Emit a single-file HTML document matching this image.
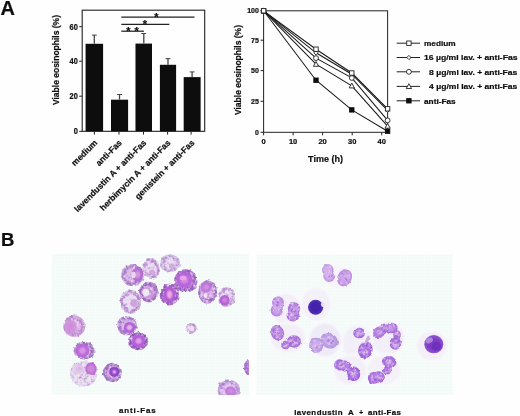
<!DOCTYPE html>
<html><head><meta charset="utf-8"><title>Figure</title>
<style>html,body{margin:0;padding:0;background:#fefefe}svg{display:block}text{stroke:#111;stroke-width:.22px}</style></head>
<body>
<svg width="520" height="416" viewBox="0 0 520 416">
<defs>
<filter id="b1" x="-20%" y="-20%" width="140%" height="140%"><feGaussianBlur stdDeviation="0.6"/></filter>
<filter id="b3" x="-20%" y="-20%" width="140%" height="140%"><feGaussianBlur stdDeviation="0.7"/></filter>
<filter id="b2" x="-20%" y="-20%" width="140%" height="140%"><feGaussianBlur stdDeviation="0.9"/></filter>
<filter id="tex" x="0" y="0" width="100%" height="100%" color-interpolation-filters="sRGB">
<feTurbulence type="fractalNoise" baseFrequency="0.22" numOctaves="2" seed="4" result="n"/>
<feDisplacementMap in="SourceGraphic" in2="n" scale="3" xChannelSelector="R" yChannelSelector="G" result="d"/>
<feTurbulence type="fractalNoise" baseFrequency="0.3" numOctaves="2" seed="9" result="n2"/>
<feColorMatrix in="n2" type="matrix" values="0 0 0 0 0.96  0 0 0 0 0.90  0 0 0 0 0.98  2.6 0 0 0 -1.25" result="w"/>
<feComposite in="w" in2="d" operator="in" result="wm"/>
<feColorMatrix in="n2" type="matrix" values="0 0 0 0 0.58  0 0 0 0 0.3  0 0 0 0 0.76  0 1.6 0 0 -0.85" result="k"/>
<feComposite in="k" in2="d" operator="in" result="km"/>
<feMerge result="m"><feMergeNode in="d"/><feMergeNode in="wm"/><feMergeNode in="km"/></feMerge>
<feGaussianBlur in="m" stdDeviation="0.75"/>
</filter>
<filter id="tex2" x="0" y="0" width="100%" height="100%" color-interpolation-filters="sRGB">
<feTurbulence type="fractalNoise" baseFrequency="0.22" numOctaves="2" seed="11" result="n"/>
<feDisplacementMap in="SourceGraphic" in2="n" scale="2.5" xChannelSelector="R" yChannelSelector="G" result="d"/>
<feTurbulence type="fractalNoise" baseFrequency="0.35" numOctaves="2" seed="5" result="n2"/>
<feColorMatrix in="n2" type="matrix" values="0 0 0 0 0.90  0 0 0 0 0.80  0 0 0 0 0.96  2.4 0 0 0 -1.15" result="w"/>
<feComposite in="w" in2="d" operator="in" result="wm"/>
<feMerge result="m"><feMergeNode in="d"/><feMergeNode in="wm"/></feMerge>
<feGaussianBlur in="m" stdDeviation="0.72"/>
</filter>
<filter id="tb" x="-5%" y="-5%" width="110%" height="110%"><feGaussianBlur stdDeviation="0.35"/></filter>
<clipPath id="cl"><rect x="51.5" y="254" width="197.5" height="141"/></clipPath>
<clipPath id="cr"><rect x="256.5" y="254.5" width="196.5" height="140.5"/></clipPath>
<pattern id="grid" width="3" height="3" patternUnits="userSpaceOnUse"><rect width="3" height="3" fill="#f6fcfa"/><path d="M0 0.5H3M0.5 0V3" stroke="#f0f9f7" stroke-width="0.5"/></pattern>
</defs>
<rect width="520" height="416" fill="#fefefe"/>
<g font-family="Liberation Sans, Arial, Helvetica, sans-serif" font-weight="bold" fill="#111" filter="url(#tb)">
<text x="0.5" y="15.3" font-size="19.4" textLength="14.4" lengthAdjust="spacingAndGlyphs" stroke="#111" stroke-width="0.3">A</text>
<text x="0.9" y="245.5" font-size="18" textLength="13.4" lengthAdjust="spacingAndGlyphs" stroke="#111" stroke-width="0.3">B</text>
</g>
<g id="chartA" filter="url(#tb)">
<rect x="82.2" y="10.2" width="122.5" height="121.1" fill="none" stroke="#222" stroke-width="1.1"/>
<line x1="79.2" y1="131.3" x2="82.2" y2="131.3" stroke="#222" stroke-width="1"/>
<text x="77.9" y="134.3" font-size="8.7" text-anchor="end" textLength="4.2" lengthAdjust="spacingAndGlyphs" font-family="Liberation Sans, Arial, Helvetica, sans-serif" font-weight="bold" fill="#111">0</text>
<line x1="79.2" y1="96.2" x2="82.2" y2="96.2" stroke="#222" stroke-width="1"/>
<text x="77.9" y="99.2" font-size="8.7" text-anchor="end" textLength="8.3" lengthAdjust="spacingAndGlyphs" font-family="Liberation Sans, Arial, Helvetica, sans-serif" font-weight="bold" fill="#111">20</text>
<line x1="79.2" y1="61.2" x2="82.2" y2="61.2" stroke="#222" stroke-width="1"/>
<text x="77.9" y="64.2" font-size="8.7" text-anchor="end" textLength="8.3" lengthAdjust="spacingAndGlyphs" font-family="Liberation Sans, Arial, Helvetica, sans-serif" font-weight="bold" fill="#111">40</text>
<line x1="79.2" y1="26.7" x2="82.2" y2="26.7" stroke="#222" stroke-width="1"/>
<text x="77.9" y="29.7" font-size="8.7" text-anchor="end" textLength="8.3" lengthAdjust="spacingAndGlyphs" font-family="Liberation Sans, Arial, Helvetica, sans-serif" font-weight="bold" fill="#111">60</text>
<text transform="translate(59.4,60) rotate(-90)" font-size="8.4" text-anchor="middle" textLength="90" lengthAdjust="spacingAndGlyphs" font-family="Liberation Sans, Arial, Helvetica, sans-serif" font-weight="bold" fill="#111">Viable eosinophils (%)</text>
<rect x="85.6" y="43.8" width="17.5" height="87.5" fill="#0b0b0b"/>
<path d="M94.3 43.8V35.1" stroke="#444" stroke-width="1.3" fill="none"/><path d="M91.9 35.1H96.8" stroke="#444" stroke-width="1" fill="none"/>
<line x1="94.4" y1="131.3" x2="94.4" y2="134.60000000000002" stroke="#222" stroke-width="1"/>
<rect x="111" y="99.7" width="17.1" height="31.6" fill="#0b0b0b"/>
<path d="M119.5 99.7V94.5" stroke="#444" stroke-width="1.3" fill="none"/><path d="M117.1 94.5H122.0" stroke="#444" stroke-width="1" fill="none"/>
<line x1="119.0" y1="131.3" x2="119.0" y2="134.60000000000002" stroke="#222" stroke-width="1"/>
<rect x="135.5" y="43.6" width="16.5" height="87.7" fill="#0b0b0b"/>
<path d="M143.8 43.6V33.5" stroke="#444" stroke-width="1.3" fill="none"/><path d="M141.3 33.5H146.2" stroke="#444" stroke-width="1" fill="none"/>
<line x1="143.5" y1="131.3" x2="143.5" y2="134.60000000000002" stroke="#222" stroke-width="1"/>
<rect x="159.9" y="64.8" width="16.2" height="66.5" fill="#0b0b0b"/>
<path d="M168.0 64.8V58.6" stroke="#444" stroke-width="1.3" fill="none"/><path d="M165.6 58.6H170.4" stroke="#444" stroke-width="1" fill="none"/>
<line x1="167.6" y1="131.3" x2="167.6" y2="134.60000000000002" stroke="#222" stroke-width="1"/>
<rect x="183.7" y="77.1" width="16.9" height="54.2" fill="#0b0b0b"/>
<path d="M192.1 77.1V71.9" stroke="#444" stroke-width="1.3" fill="none"/><path d="M189.7 71.9H194.5" stroke="#444" stroke-width="1" fill="none"/>
<line x1="191.1" y1="131.3" x2="191.1" y2="134.60000000000002" stroke="#222" stroke-width="1"/>
<line x1="121.3" y1="17.2" x2="194.5" y2="17.2" stroke="#222" stroke-width="1.25"/>
<text x="156.5" y="20.8" font-size="11" text-anchor="middle" font-family="Liberation Sans, Arial, Helvetica, sans-serif" font-weight="bold" fill="#111">*</text>
<line x1="121.3" y1="24.3" x2="169.3" y2="24.3" stroke="#222" stroke-width="1.25"/>
<text x="144.8" y="27.9" font-size="11" text-anchor="middle" font-family="Liberation Sans, Arial, Helvetica, sans-serif" font-weight="bold" fill="#111">*</text>
<line x1="121.3" y1="31.2" x2="143.9" y2="31.2" stroke="#222" stroke-width="1.25"/>
<text x="128.5" y="34.8" font-size="11" text-anchor="middle" font-family="Liberation Sans, Arial, Helvetica, sans-serif" font-weight="bold" fill="#111">*</text>
<text x="136.6" y="34.8" font-size="11" text-anchor="middle" font-family="Liberation Sans, Arial, Helvetica, sans-serif" font-weight="bold" fill="#111">*</text>
<text transform="translate(98.0,143.3) rotate(-45)" font-size="8.55" stroke="#111" stroke-width="0.15" text-anchor="end" font-family="Liberation Sans, Arial, Helvetica, sans-serif" font-weight="bold" fill="#111">medium</text>
<text transform="translate(122.4,143.3) rotate(-45)" font-size="8.55" stroke="#111" stroke-width="0.15" text-anchor="end" font-family="Liberation Sans, Arial, Helvetica, sans-serif" font-weight="bold" fill="#111">anti-Fas</text>
<text transform="translate(146.9,143.3) rotate(-45)" font-size="8.55" stroke="#111" stroke-width="0.15" text-anchor="end" font-family="Liberation Sans, Arial, Helvetica, sans-serif" font-weight="bold" fill="#111">lavendustin A + anti-Fas</text>
<text transform="translate(171.1,143.3) rotate(-45)" font-size="8.55" stroke="#111" stroke-width="0.15" text-anchor="end" font-family="Liberation Sans, Arial, Helvetica, sans-serif" font-weight="bold" fill="#111">herbimycin A + anti-Fas</text>
<text transform="translate(195.0,143.3) rotate(-45)" font-size="8.55" stroke="#111" stroke-width="0.15" text-anchor="end" font-family="Liberation Sans, Arial, Helvetica, sans-serif" font-weight="bold" fill="#111">genistein + anti-Fas</text>
</g>
<g id="chartL" filter="url(#tb)">
<rect x="263.6" y="10.8" width="124.0" height="121.5" fill="none" stroke="#222" stroke-width="1"/>
<line x1="260.6" y1="132.3" x2="263.6" y2="132.3" stroke="#222" stroke-width="1"/>
<text x="258.9" y="134.8" font-size="7" text-anchor="end" font-family="Liberation Sans, Arial, Helvetica, sans-serif" font-weight="bold" fill="#111">0</text>
<line x1="260.6" y1="101.3" x2="263.6" y2="101.3" stroke="#222" stroke-width="1"/>
<text x="258.9" y="103.8" font-size="7" text-anchor="end" font-family="Liberation Sans, Arial, Helvetica, sans-serif" font-weight="bold" fill="#111">25</text>
<line x1="260.6" y1="70.6" x2="263.6" y2="70.6" stroke="#222" stroke-width="1"/>
<text x="258.9" y="73.1" font-size="7" text-anchor="end" font-family="Liberation Sans, Arial, Helvetica, sans-serif" font-weight="bold" fill="#111">50</text>
<line x1="260.6" y1="40.2" x2="263.6" y2="40.2" stroke="#222" stroke-width="1"/>
<text x="258.9" y="42.7" font-size="7" text-anchor="end" font-family="Liberation Sans, Arial, Helvetica, sans-serif" font-weight="bold" fill="#111">75</text>
<line x1="260.6" y1="10.8" x2="263.6" y2="10.8" stroke="#222" stroke-width="1"/>
<text x="258.9" y="13.3" font-size="7" text-anchor="end" font-family="Liberation Sans, Arial, Helvetica, sans-serif" font-weight="bold" fill="#111">100</text>
<line x1="263.6" y1="132.3" x2="263.6" y2="135.3" stroke="#222" stroke-width="1"/>
<text x="263.6" y="144.1" font-size="7.5" text-anchor="middle" font-family="Liberation Sans, Arial, Helvetica, sans-serif" font-weight="bold" fill="#111">0</text>
<line x1="293.1" y1="132.3" x2="293.1" y2="135.3" stroke="#222" stroke-width="1"/>
<text x="293.1" y="144.1" font-size="7.5" text-anchor="middle" font-family="Liberation Sans, Arial, Helvetica, sans-serif" font-weight="bold" fill="#111">10</text>
<line x1="322.6" y1="132.3" x2="322.6" y2="135.3" stroke="#222" stroke-width="1"/>
<text x="322.6" y="144.1" font-size="7.5" text-anchor="middle" font-family="Liberation Sans, Arial, Helvetica, sans-serif" font-weight="bold" fill="#111">20</text>
<line x1="352.2" y1="132.3" x2="352.2" y2="135.3" stroke="#222" stroke-width="1"/>
<text x="352.2" y="144.1" font-size="7.5" text-anchor="middle" font-family="Liberation Sans, Arial, Helvetica, sans-serif" font-weight="bold" fill="#111">30</text>
<line x1="381.7" y1="132.3" x2="381.7" y2="135.3" stroke="#222" stroke-width="1"/>
<text x="381.7" y="144.1" font-size="7.5" text-anchor="middle" font-family="Liberation Sans, Arial, Helvetica, sans-serif" font-weight="bold" fill="#111">40</text>
<text x="325.5" y="162.4" font-size="9" text-anchor="middle" font-family="Liberation Sans, Arial, Helvetica, sans-serif" font-weight="bold" fill="#111">Time (h)</text>
<text transform="translate(240.6,70) rotate(-90)" font-size="8.4" text-anchor="middle" textLength="90" lengthAdjust="spacingAndGlyphs" font-family="Liberation Sans, Arial, Helvetica, sans-serif" font-weight="bold" fill="#111">Viable eosinophils (%)</text>
<polyline points="263.6,10.8 316.0,80.2 351.8,109.9 387.6,131.2" fill="none" stroke="#1a1a1a" stroke-width="1.05"/>
<polyline points="263.6,10.8 316.0,64.2 351.8,85.8 387.6,126.1" fill="none" stroke="#1a1a1a" stroke-width="1.05"/>
<polyline points="263.6,10.8 316.0,58.1 351.8,77.9 387.6,120.4" fill="none" stroke="#1a1a1a" stroke-width="1.05"/>
<polyline points="263.6,10.8 316.0,52.8 351.8,74.2 387.6,110.3" fill="none" stroke="#1a1a1a" stroke-width="1.05"/>
<polyline points="263.6,10.8 316.0,49.2 351.8,73.0 387.6,108.8" fill="none" stroke="#1a1a1a" stroke-width="1.05"/>
<rect x="261.4" y="8.6" width="4.4" height="4.4" fill="#111" stroke="#111" stroke-width="0.9"/>
<rect x="313.8" y="78.0" width="4.4" height="4.4" fill="#111" stroke="#111" stroke-width="0.9"/>
<rect x="349.6" y="107.7" width="4.4" height="4.4" fill="#111" stroke="#111" stroke-width="0.9"/>
<rect x="385.4" y="129.0" width="4.4" height="4.4" fill="#111" stroke="#111" stroke-width="0.9"/>
<path d="M261.0 12.9L263.6 8.1L266.2 12.9Z" fill="#fff" stroke="#222" stroke-width="0.9"/>
<path d="M313.4 66.3L316.0 61.5L318.6 66.3Z" fill="#fff" stroke="#222" stroke-width="0.9"/>
<path d="M349.2 87.9L351.8 83.1L354.4 87.9Z" fill="#fff" stroke="#222" stroke-width="0.9"/>
<path d="M385.0 128.2L387.6 123.4L390.2 128.2Z" fill="#fff" stroke="#222" stroke-width="0.9"/>
<circle cx="263.6" cy="10.8" r="2.45" fill="#fff" stroke="#222" stroke-width="0.9"/>
<circle cx="316.0" cy="58.1" r="2.45" fill="#fff" stroke="#222" stroke-width="0.9"/>
<circle cx="351.8" cy="77.9" r="2.45" fill="#fff" stroke="#222" stroke-width="0.9"/>
<circle cx="387.6" cy="120.4" r="2.45" fill="#fff" stroke="#222" stroke-width="0.9"/>
<path d="M261.5 10.8L263.6 8.7L265.7 10.8L263.6 12.9Z" fill="#fff" stroke="#222" stroke-width="0.9"/>
<path d="M313.9 52.8L316.0 50.7L318.1 52.8L316.0 54.9Z" fill="#fff" stroke="#222" stroke-width="0.9"/>
<path d="M349.7 74.2L351.8 72.1L353.9 74.2L351.8 76.3Z" fill="#fff" stroke="#222" stroke-width="0.9"/>
<path d="M385.5 110.3L387.6 108.2L389.7 110.3L387.6 112.4Z" fill="#fff" stroke="#222" stroke-width="0.9"/>
<rect x="261.4" y="8.6" width="4.4" height="4.4" fill="#fff" stroke="#222" stroke-width="0.9"/>
<rect x="313.8" y="47.0" width="4.4" height="4.4" fill="#fff" stroke="#222" stroke-width="0.9"/>
<rect x="349.6" y="70.8" width="4.4" height="4.4" fill="#fff" stroke="#222" stroke-width="0.9"/>
<rect x="385.4" y="106.6" width="4.4" height="4.4" fill="#fff" stroke="#222" stroke-width="0.9"/>
<line x1="396.7" y1="43.2" x2="420" y2="43.2" stroke="#222" stroke-width="1"/>
<rect x="406.7" y="41.0" width="4.4" height="4.4" fill="#fff" stroke="#222" stroke-width="0.9"/>
<text x="424" y="46.1" font-size="7.9" textLength="31.6" lengthAdjust="spacingAndGlyphs" font-family="Liberation Sans, Arial, Helvetica, sans-serif" font-weight="bold" fill="#111">medium</text>
<line x1="396.7" y1="57.5" x2="420" y2="57.5" stroke="#222" stroke-width="1"/>
<path d="M406.8 57.5L408.9 55.4L411.0 57.5L408.9 59.6Z" fill="#fff" stroke="#222" stroke-width="0.9"/>
<text x="424" y="60.4" font-size="7.9" textLength="93.5" lengthAdjust="spacingAndGlyphs" font-family="Liberation Sans, Arial, Helvetica, sans-serif" font-weight="bold" fill="#111">16 µg/ml lav. + anti-Fas</text>
<line x1="396.7" y1="71.8" x2="420" y2="71.8" stroke="#222" stroke-width="1"/>
<circle cx="408.9" cy="71.8" r="2.45" fill="#fff" stroke="#222" stroke-width="0.9"/>
<text x="429.1" y="74.7" font-size="7.9" textLength="88.3" lengthAdjust="spacingAndGlyphs" font-family="Liberation Sans, Arial, Helvetica, sans-serif" font-weight="bold" fill="#111">8 µg/ml lav. + anti-Fas</text>
<line x1="396.7" y1="86.4" x2="420" y2="86.4" stroke="#222" stroke-width="1"/>
<path d="M406.3 88.5L408.9 83.7L411.5 88.5Z" fill="#fff" stroke="#222" stroke-width="0.9"/>
<text x="429.1" y="89.3" font-size="7.9" textLength="88.3" lengthAdjust="spacingAndGlyphs" font-family="Liberation Sans, Arial, Helvetica, sans-serif" font-weight="bold" fill="#111">4 µg/ml lav. + anti-Fas</text>
<line x1="396.7" y1="100.8" x2="420" y2="100.8" stroke="#222" stroke-width="1"/>
<rect x="406.7" y="98.6" width="4.4" height="4.4" fill="#111" stroke="#111" stroke-width="0.9"/>
<text x="424" y="103.7" font-size="7.9" textLength="31.7" lengthAdjust="spacingAndGlyphs" font-family="Liberation Sans, Arial, Helvetica, sans-serif" font-weight="bold" fill="#111">anti-Fas</text>
</g>
<defs><radialGradient id="g1"><stop offset="0" stop-color="#eee6f2"/><stop offset="0.6" stop-color="#eee6f2"/><stop offset="1" stop-color="#ddd0e8"/></radialGradient><radialGradient id="g2"><stop offset="0" stop-color="#dcb8e6"/><stop offset="0.3" stop-color="#dcb8e6"/><stop offset="1" stop-color="#e4d0ec"/></radialGradient><radialGradient id="g3"><stop offset="0" stop-color="#d088de"/><stop offset="0.4" stop-color="#d088de"/><stop offset="1" stop-color="#b868d0"/></radialGradient><radialGradient id="g4"><stop offset="0" stop-color="#d9b9e5"/><stop offset="0.5" stop-color="#d9b9e5"/><stop offset="1" stop-color="#c099d5"/></radialGradient><radialGradient id="g5"><stop offset="0" stop-color="#e9daf0"/><stop offset="0.5" stop-color="#e9daf0"/><stop offset="1" stop-color="#d3b9e1"/></radialGradient><radialGradient id="g6"><stop offset="0" stop-color="#e5d9f0"/><stop offset="0.5" stop-color="#e5d9f0"/><stop offset="1" stop-color="#d1bde3"/></radialGradient><radialGradient id="g7"><stop offset="0" stop-color="#e9dcf0"/><stop offset="0.5" stop-color="#e9dcf0"/><stop offset="1" stop-color="#d1b7e0"/></radialGradient><radialGradient id="g8"><stop offset="0" stop-color="#cba0da"/><stop offset="0.5" stop-color="#cba0da"/><stop offset="1" stop-color="#b07dcc"/></radialGradient><radialGradient id="g9"><stop offset="0" stop-color="#c084d7"/><stop offset="0.5" stop-color="#c084d7"/><stop offset="1" stop-color="#ab6fcb"/></radialGradient><radialGradient id="g10"><stop offset="0" stop-color="#c082d9"/><stop offset="0.5" stop-color="#c082d9"/><stop offset="1" stop-color="#ab71cb"/></radialGradient><radialGradient id="g11"><stop offset="0" stop-color="#d5abe5"/><stop offset="0.5" stop-color="#d5abe5"/><stop offset="1" stop-color="#b78fd3"/></radialGradient><radialGradient id="g12"><stop offset="0" stop-color="#e9dcf1"/><stop offset="0.5" stop-color="#e9dcf1"/><stop offset="1" stop-color="#d3bde5"/></radialGradient><radialGradient id="g13"><stop offset="0" stop-color="#e0b7e5"/><stop offset="0.5" stop-color="#e0b7e5"/><stop offset="1" stop-color="#cca0da"/></radialGradient><radialGradient id="g14"><stop offset="0" stop-color="#d2abe1"/><stop offset="0.5" stop-color="#d2abe1"/><stop offset="1" stop-color="#ad81c9"/></radialGradient><radialGradient id="g15"><stop offset="0" stop-color="#d2a9df"/><stop offset="0.5" stop-color="#d2a9df"/><stop offset="1" stop-color="#ad84c9"/></radialGradient><radialGradient id="g16"><stop offset="0" stop-color="#d2aee5"/><stop offset="0.5" stop-color="#d2aee5"/><stop offset="1" stop-color="#b48bd3"/></radialGradient><radialGradient id="g17"><stop offset="0" stop-color="#b97bd5"/><stop offset="0.5" stop-color="#b97bd5"/><stop offset="1" stop-color="#a065c4"/></radialGradient><radialGradient id="g18"><stop offset="0" stop-color="#eee2f3"/><stop offset="0.5" stop-color="#eee2f3"/><stop offset="1" stop-color="#ceb2e0"/></radialGradient><radialGradient id="g19"><stop offset="0" stop-color="#debdec"/><stop offset="0.5" stop-color="#debdec"/><stop offset="1" stop-color="#c2a0de"/></radialGradient><radialGradient id="g20"><stop offset="0" stop-color="#b981d5"/><stop offset="0.5" stop-color="#b981d5"/><stop offset="1" stop-color="#b27ad2"/></radialGradient><radialGradient id="g21"><stop offset="0" stop-color="#dcb8e6"/><stop offset="0.3" stop-color="#dcb8e6"/><stop offset="1" stop-color="#e4d0ec"/></radialGradient><radialGradient id="g22"><stop offset="0" stop-color="#d088de"/><stop offset="0.4" stop-color="#d088de"/><stop offset="1" stop-color="#b868d0"/></radialGradient><radialGradient id="g23"><stop offset="0" stop-color="#d296e1"/><stop offset="0.28" stop-color="#d296e1"/><stop offset="0.66" stop-color="#b26cd2"/><stop offset="0.88" stop-color="#b26cd2"/><stop offset="1" stop-color="#b26cd2"/></radialGradient><radialGradient id="g24"><stop offset="0" stop-color="#f1abe7"/><stop offset="0.28" stop-color="#f1abe7"/><stop offset="0.66" stop-color="#b258d5"/><stop offset="0.88" stop-color="#b258d5"/><stop offset="1" stop-color="#b258d5"/></radialGradient><radialGradient id="g25"><stop offset="0" stop-color="#d98be5"/><stop offset="0.28" stop-color="#d98be5"/><stop offset="0.66" stop-color="#b963da"/><stop offset="0.88" stop-color="#b963da"/><stop offset="1" stop-color="#b963da"/></radialGradient><radialGradient id="g26"><stop offset="0" stop-color="#d28be3"/><stop offset="0.28" stop-color="#d28be3"/><stop offset="0.66" stop-color="#be76da"/><stop offset="0.88" stop-color="#be76da"/><stop offset="1" stop-color="#be76da"/></radialGradient><radialGradient id="g27"><stop offset="0" stop-color="#cb7ade"/><stop offset="0.28" stop-color="#cb7ade"/><stop offset="0.66" stop-color="#b25dd2"/><stop offset="0.88" stop-color="#b25dd2"/><stop offset="1" stop-color="#b25dd2"/></radialGradient><radialGradient id="g28"><stop offset="0" stop-color="#d284dc"/><stop offset="0.28" stop-color="#d284dc"/><stop offset="0.66" stop-color="#cc96dc"/><stop offset="0.88" stop-color="#cc96dc"/><stop offset="1" stop-color="#cc96dc"/></radialGradient><radialGradient id="g29"><stop offset="0" stop-color="#d992e7"/><stop offset="0.28" stop-color="#d992e7"/><stop offset="0.66" stop-color="#b965d9"/><stop offset="0.88" stop-color="#b965d9"/><stop offset="1" stop-color="#b965d9"/></radialGradient><radialGradient id="g30"><stop offset="0" stop-color="#b26ce7"/><stop offset="0.28" stop-color="#b26ce7"/><stop offset="0.66" stop-color="#8841c0"/><stop offset="0.88" stop-color="#8841c0"/><stop offset="1" stop-color="#8841c0"/></radialGradient><radialGradient id="g31"><stop offset="0" stop-color="#e7b2ec"/><stop offset="0.28" stop-color="#e7b2ec"/><stop offset="0.66" stop-color="#b25dd5"/><stop offset="0.88" stop-color="#b25dd5"/><stop offset="1" stop-color="#b25dd5"/></radialGradient><radialGradient id="g32"><stop offset="0" stop-color="#e39dea"/><stop offset="0.28" stop-color="#e39dea"/><stop offset="0.66" stop-color="#b25cd9"/><stop offset="0.88" stop-color="#b25cd9"/><stop offset="1" stop-color="#b25cd9"/></radialGradient><radialGradient id="g33"><stop offset="0" stop-color="#cb84e3"/><stop offset="0.28" stop-color="#cb84e3"/><stop offset="0.66" stop-color="#bd7ad9"/><stop offset="0.88" stop-color="#bd7ad9"/><stop offset="1" stop-color="#bd7ad9"/></radialGradient><radialGradient id="g34"><stop offset="0" stop-color="#d2b0ea"/><stop offset="0.4" stop-color="#d2b0ea"/><stop offset="1" stop-color="#bc8ee0"/></radialGradient><radialGradient id="g35"><stop offset="0" stop-color="#cca6e8"/><stop offset="0.45" stop-color="#cca6e8"/><stop offset="1" stop-color="#b686de"/></radialGradient><radialGradient id="g36"><stop offset="0" stop-color="#c8a0e8"/><stop offset="0.4" stop-color="#c8a0e8"/><stop offset="1" stop-color="#b07edc"/></radialGradient><radialGradient id="g37"><stop offset="0" stop-color="#c090e4"/><stop offset="0.4" stop-color="#c090e4"/><stop offset="1" stop-color="#a66cd8"/></radialGradient><radialGradient id="g38"><stop offset="0" stop-color="#c090e4"/><stop offset="0.45" stop-color="#c090e4"/><stop offset="1" stop-color="#a66cd8"/></radialGradient><radialGradient id="g39"><stop offset="0" stop-color="#ba86e2"/><stop offset="0.45" stop-color="#ba86e2"/><stop offset="1" stop-color="#a264d6"/></radialGradient><radialGradient id="g40"><stop offset="0" stop-color="#ba86e2"/><stop offset="0.45" stop-color="#ba86e2"/><stop offset="1" stop-color="#a264d6"/></radialGradient><radialGradient id="g41"><stop offset="0" stop-color="#c8aeea"/><stop offset="0.45" stop-color="#c8aeea"/><stop offset="1" stop-color="#b494e0"/></radialGradient><radialGradient id="g42"><stop offset="0" stop-color="#c4aae8"/><stop offset="0.45" stop-color="#c4aae8"/><stop offset="1" stop-color="#b08ede"/></radialGradient><radialGradient id="g43"><stop offset="0" stop-color="#b680e4"/><stop offset="0.45" stop-color="#b680e4"/><stop offset="1" stop-color="#9e60d8"/></radialGradient><radialGradient id="g44"><stop offset="0" stop-color="#b078e2"/><stop offset="0.45" stop-color="#b078e2"/><stop offset="1" stop-color="#9858d6"/></radialGradient><radialGradient id="g45"><stop offset="0" stop-color="#b680e4"/><stop offset="0.4" stop-color="#b680e4"/><stop offset="1" stop-color="#9e60d8"/></radialGradient><radialGradient id="g46"><stop offset="0" stop-color="#b078e2"/><stop offset="0.45" stop-color="#b078e2"/><stop offset="1" stop-color="#9858d6"/></radialGradient><radialGradient id="g47"><stop offset="0" stop-color="#ba86e2"/><stop offset="0.45" stop-color="#ba86e2"/><stop offset="1" stop-color="#a266d8"/></radialGradient><radialGradient id="g48"><stop offset="0" stop-color="#b680e4"/><stop offset="0.4" stop-color="#b680e4"/><stop offset="1" stop-color="#9e60d8"/></radialGradient><radialGradient id="g49"><stop offset="0" stop-color="#bc8ae4"/><stop offset="0.45" stop-color="#bc8ae4"/><stop offset="1" stop-color="#a86cda"/></radialGradient><radialGradient id="g50"><stop offset="0" stop-color="#bc8ae4"/><stop offset="0.45" stop-color="#bc8ae4"/><stop offset="1" stop-color="#a86cda"/></radialGradient><radialGradient id="g51"><stop offset="0" stop-color="#ba86e2"/><stop offset="0.45" stop-color="#ba86e2"/><stop offset="1" stop-color="#a266d8"/></radialGradient><radialGradient id="g52"><stop offset="0" stop-color="#bc8ae4"/><stop offset="0.45" stop-color="#bc8ae4"/><stop offset="1" stop-color="#a86cda"/></radialGradient><radialGradient id="g53"><stop offset="0" stop-color="#b47ee2"/><stop offset="0.45" stop-color="#b47ee2"/><stop offset="1" stop-color="#9e60d6"/></radialGradient><radialGradient id="g54"><stop offset="0" stop-color="#b680e2"/><stop offset="0.45" stop-color="#b680e2"/><stop offset="1" stop-color="#9e60d6"/></radialGradient><radialGradient id="g55"><stop offset="0" stop-color="#b680e2"/><stop offset="0.45" stop-color="#b680e2"/><stop offset="1" stop-color="#9e60d6"/></radialGradient><radialGradient id="g56"><stop offset="0" stop-color="#4424ac"/><stop offset="0.6" stop-color="#4424ac"/><stop offset="1" stop-color="#5634b8"/></radialGradient><radialGradient id="g57"><stop offset="0" stop-color="#7c3ac6"/><stop offset="0.55" stop-color="#7c3ac6"/><stop offset="1" stop-color="#9054d0"/></radialGradient></defs>
<rect x="51.5" y="254" width="197.5" height="140.7" fill="url(#grid)" filter="url(#b1)"/>
<rect x="256.5" y="254.5" width="196.5" height="140.5" fill="url(#grid)" filter="url(#b1)"/>
<g clip-path="url(#cl)"><g filter="url(#tex)"><rect x="40" y="245" width="1" height="1" fill="none"/><rect x="259" y="404" width="1" height="1" fill="none"/>
<ellipse cx="83.6" cy="373.8" rx="13.5" ry="12.8" fill="url(#g1)"/>
<circle cx="86.6" cy="373.7" r="0.9" fill="#cdb6da" opacity="0.8"/><circle cx="90.7" cy="373.7" r="0.8" fill="#cdb6da" opacity="0.8"/><circle cx="90.4" cy="374.3" r="0.6" fill="#cdb6da" opacity="0.8"/><circle cx="85.6" cy="374.3" r="0.6" fill="#cdb6da" opacity="0.8"/><circle cx="93.3" cy="377.2" r="0.7" fill="#cdb6da" opacity="0.8"/><circle cx="91.1" cy="376.8" r="1.1" fill="#cdb6da" opacity="0.8"/><circle cx="88.3" cy="376.7" r="1.1" fill="#cdb6da" opacity="0.8"/><circle cx="92.7" cy="379.0" r="0.7" fill="#cdb6da" opacity="0.8"/><circle cx="85.7" cy="375.3" r="0.8" fill="#cdb6da" opacity="0.8"/><circle cx="85.6" cy="376.3" r="0.9" fill="#cdb6da" opacity="0.8"/><circle cx="86.7" cy="378.0" r="0.9" fill="#cdb6da" opacity="0.8"/><circle cx="84.8" cy="375.3" r="0.7" fill="#cdb6da" opacity="0.8"/><circle cx="86.0" cy="379.0" r="0.8" fill="#cdb6da" opacity="0.8"/><circle cx="85.7" cy="379.4" r="0.7" fill="#cdb6da" opacity="0.8"/><circle cx="85.4" cy="382.1" r="0.7" fill="#cdb6da" opacity="0.8"/><circle cx="84.8" cy="380.4" r="1.0" fill="#cdb6da" opacity="0.8"/><circle cx="83.8" cy="378.0" r="1.1" fill="#cdb6da" opacity="0.8"/><circle cx="84.1" cy="379.3" r="1.0" fill="#cdb6da" opacity="0.8"/><circle cx="83.5" cy="380.1" r="0.6" fill="#cdb6da" opacity="0.8"/><circle cx="81.5" cy="382.7" r="0.9" fill="#cdb6da" opacity="0.8"/><circle cx="81.9" cy="378.0" r="0.9" fill="#cdb6da" opacity="0.8"/><circle cx="80.7" cy="380.5" r="0.8" fill="#cdb6da" opacity="0.8"/><circle cx="77.6" cy="383.2" r="0.8" fill="#cdb6da" opacity="0.8"/><circle cx="82.5" cy="375.4" r="1.0" fill="#cdb6da" opacity="0.8"/><circle cx="76.0" cy="382.7" r="1.0" fill="#cdb6da" opacity="0.8"/><circle cx="80.1" cy="377.8" r="0.9" fill="#cdb6da" opacity="0.8"/><circle cx="79.4" cy="378.3" r="0.7" fill="#cdb6da" opacity="0.8"/><circle cx="82.1" cy="375.1" r="1.0" fill="#cdb6da" opacity="0.8"/><circle cx="80.4" cy="376.1" r="0.8" fill="#cdb6da" opacity="0.8"/><circle cx="81.5" cy="374.6" r="0.8" fill="#cdb6da" opacity="0.8"/><circle cx="73.4" cy="377.4" r="1.0" fill="#cdb6da" opacity="0.8"/><circle cx="79.3" cy="374.6" r="0.8" fill="#cdb6da" opacity="0.8"/><circle cx="73.0" cy="376.0" r="1.1" fill="#cdb6da" opacity="0.8"/><circle cx="80.4" cy="374.3" r="0.7" fill="#cdb6da" opacity="0.8"/><circle cx="77.0" cy="374.2" r="0.9" fill="#cdb6da" opacity="0.8"/><circle cx="82.2" cy="373.8" r="0.8" fill="#cdb6da" opacity="0.8"/><circle cx="76.2" cy="372.7" r="1.1" fill="#cdb6da" opacity="0.8"/><circle cx="77.0" cy="371.7" r="0.9" fill="#cdb6da" opacity="0.8"/><circle cx="81.8" cy="373.1" r="1.0" fill="#cdb6da" opacity="0.8"/><circle cx="74.3" cy="368.6" r="1.0" fill="#cdb6da" opacity="0.8"/><circle cx="78.7" cy="371.1" r="0.7" fill="#cdb6da" opacity="0.8"/><circle cx="82.0" cy="372.6" r="0.6" fill="#cdb6da" opacity="0.8"/><circle cx="81.2" cy="372.0" r="0.8" fill="#cdb6da" opacity="0.8"/><circle cx="82.6" cy="373.0" r="0.7" fill="#cdb6da" opacity="0.8"/><circle cx="80.0" cy="370.1" r="0.6" fill="#cdb6da" opacity="0.8"/><circle cx="80.0" cy="367.0" r="0.7" fill="#cdb6da" opacity="0.8"/><circle cx="81.1" cy="369.6" r="0.8" fill="#cdb6da" opacity="0.8"/><circle cx="78.9" cy="364.9" r="1.1" fill="#cdb6da" opacity="0.8"/><circle cx="81.7" cy="367.8" r="0.6" fill="#cdb6da" opacity="0.8"/><circle cx="82.2" cy="369.2" r="0.7" fill="#cdb6da" opacity="0.8"/><circle cx="83.6" cy="370.9" r="0.6" fill="#cdb6da" opacity="0.8"/><circle cx="84.4" cy="367.1" r="0.7" fill="#cdb6da" opacity="0.8"/><circle cx="83.8" cy="372.3" r="0.9" fill="#cdb6da" opacity="0.8"/><circle cx="86.8" cy="364.1" r="0.9" fill="#cdb6da" opacity="0.8"/><circle cx="84.8" cy="368.9" r="0.7" fill="#cdb6da" opacity="0.8"/><circle cx="86.6" cy="367.7" r="1.0" fill="#cdb6da" opacity="0.8"/><circle cx="85.1" cy="370.5" r="1.0" fill="#cdb6da" opacity="0.8"/><circle cx="90.2" cy="366.0" r="1.0" fill="#cdb6da" opacity="0.8"/><circle cx="89.8" cy="367.2" r="0.7" fill="#cdb6da" opacity="0.8"/><circle cx="87.1" cy="370.2" r="0.6" fill="#cdb6da" opacity="0.8"/><circle cx="86.5" cy="370.7" r="0.7" fill="#cdb6da" opacity="0.8"/><circle cx="93.2" cy="367.5" r="0.8" fill="#cdb6da" opacity="0.8"/><circle cx="94.4" cy="368.8" r="1.1" fill="#cdb6da" opacity="0.8"/><circle cx="86.9" cy="372.1" r="0.7" fill="#cdb6da" opacity="0.8"/><circle cx="86.8" cy="372.4" r="0.9" fill="#cdb6da" opacity="0.8"/><circle cx="93.9" cy="372.0" r="0.8" fill="#cdb6da" opacity="0.8"/><circle cx="93.5" cy="372.4" r="0.6" fill="#cdb6da" opacity="0.8"/><circle cx="94.8" cy="373.2" r="1.0" fill="#cdb6da" opacity="0.8"/>
<ellipse cx="79.2" cy="368.8" rx="5" ry="5" fill="url(#g2)"/>
<ellipse cx="91" cy="368.8" rx="5.6" ry="6.2" fill="url(#g3)"/>
<ellipse cx="132.5" cy="275.1" rx="11.2" ry="11" fill="url(#g4)"/>
<circle cx="141.3" cy="275.6" r="1.0" fill="#a77ac4" opacity="0.9"/><circle cx="140.6" cy="277.4" r="1.4" fill="#a77ac4" opacity="0.9"/><circle cx="139.9" cy="279.4" r="1.1" fill="#a77ac4" opacity="0.9"/><circle cx="139.6" cy="281.4" r="1.0" fill="#a77ac4" opacity="0.9"/><circle cx="138.3" cy="280.3" r="1.4" fill="#a77ac4" opacity="0.9"/><circle cx="135.9" cy="282.0" r="1.4" fill="#a77ac4" opacity="0.9"/><circle cx="134.4" cy="284.1" r="1.1" fill="#a77ac4" opacity="0.9"/><circle cx="133.2" cy="282.7" r="0.9" fill="#a77ac4" opacity="0.9"/><circle cx="130.5" cy="284.1" r="1.2" fill="#a77ac4" opacity="0.9"/><circle cx="129.0" cy="282.9" r="1.4" fill="#a77ac4" opacity="0.9"/><circle cx="128.0" cy="281.6" r="1.1" fill="#a77ac4" opacity="0.9"/><circle cx="127.4" cy="281.3" r="1.3" fill="#a77ac4" opacity="0.9"/><circle cx="125.8" cy="280.5" r="1.0" fill="#a77ac4" opacity="0.9"/><circle cx="124.5" cy="277.7" r="1.2" fill="#a77ac4" opacity="0.9"/><circle cx="122.6" cy="277.0" r="1.2" fill="#a77ac4" opacity="0.9"/><circle cx="123.6" cy="274.2" r="1.2" fill="#a77ac4" opacity="0.9"/><circle cx="125.2" cy="273.5" r="1.2" fill="#a77ac4" opacity="0.9"/><circle cx="125.5" cy="272.7" r="1.4" fill="#a77ac4" opacity="0.9"/><circle cx="125.0" cy="270.6" r="1.3" fill="#a77ac4" opacity="0.9"/><circle cx="127.0" cy="268.9" r="1.2" fill="#a77ac4" opacity="0.9"/><circle cx="127.7" cy="266.7" r="1.0" fill="#a77ac4" opacity="0.9"/><circle cx="130.1" cy="267.5" r="1.1" fill="#a77ac4" opacity="0.9"/><circle cx="132.1" cy="266.3" r="1.2" fill="#a77ac4" opacity="0.9"/><circle cx="134.2" cy="265.3" r="1.2" fill="#a77ac4" opacity="0.9"/><circle cx="135.5" cy="266.8" r="1.2" fill="#a77ac4" opacity="0.9"/><circle cx="137.2" cy="267.9" r="1.2" fill="#a77ac4" opacity="0.9"/><circle cx="139.3" cy="267.6" r="1.3" fill="#a77ac4" opacity="0.9"/><circle cx="141.3" cy="269.9" r="1.1" fill="#a77ac4" opacity="0.9"/><circle cx="141.9" cy="271.1" r="1.4" fill="#a77ac4" opacity="0.9"/><circle cx="139.9" cy="272.9" r="1.2" fill="#a77ac4" opacity="0.9"/>
<ellipse cx="151.2" cy="268.2" rx="8.6" ry="10" fill="url(#g5)"/>
<circle cx="157.4" cy="267.5" r="0.9" fill="#b992ce" opacity="0.9"/><circle cx="158.4" cy="270.7" r="1.4" fill="#b992ce" opacity="0.9"/><circle cx="157.9" cy="271.7" r="1.3" fill="#b992ce" opacity="0.9"/><circle cx="157.3" cy="273.8" r="1.5" fill="#b992ce" opacity="0.9"/><circle cx="155.9" cy="275.6" r="1.1" fill="#b992ce" opacity="0.9"/><circle cx="153.7" cy="277.0" r="1.4" fill="#b992ce" opacity="0.9"/><circle cx="152.2" cy="275.9" r="1.2" fill="#b992ce" opacity="0.9"/><circle cx="150.3" cy="275.2" r="1.1" fill="#b992ce" opacity="0.9"/><circle cx="148.5" cy="274.1" r="1.2" fill="#b992ce" opacity="0.9"/><circle cx="147.6" cy="273.4" r="1.1" fill="#b992ce" opacity="0.9"/><circle cx="145.5" cy="272.7" r="0.9" fill="#b992ce" opacity="0.9"/><circle cx="143.9" cy="270.4" r="1.5" fill="#b992ce" opacity="0.9"/><circle cx="145.1" cy="269.8" r="0.9" fill="#b992ce" opacity="0.9"/><circle cx="145.0" cy="266.8" r="1.0" fill="#b992ce" opacity="0.9"/><circle cx="143.9" cy="265.0" r="1.4" fill="#b992ce" opacity="0.9"/><circle cx="146.1" cy="264.4" r="1.5" fill="#b992ce" opacity="0.9"/><circle cx="146.6" cy="261.6" r="1.0" fill="#b992ce" opacity="0.9"/><circle cx="147.4" cy="261.0" r="1.2" fill="#b992ce" opacity="0.9"/><circle cx="148.9" cy="259.5" r="1.3" fill="#b992ce" opacity="0.9"/><circle cx="152.0" cy="261.4" r="1.4" fill="#b992ce" opacity="0.9"/><circle cx="152.8" cy="259.5" r="1.2" fill="#b992ce" opacity="0.9"/><circle cx="154.7" cy="261.2" r="1.5" fill="#b992ce" opacity="0.9"/><circle cx="155.3" cy="263.2" r="1.2" fill="#b992ce" opacity="0.9"/><circle cx="156.2" cy="264.5" r="1.0" fill="#b992ce" opacity="0.9"/><circle cx="157.0" cy="265.7" r="1.1" fill="#b992ce" opacity="0.9"/>
<ellipse cx="170" cy="263.2" rx="9.7" ry="9" fill="url(#g6)"/>
<circle cx="178.4" cy="262.8" r="1.1" fill="#b99dd2" opacity="0.9"/><circle cx="176.7" cy="264.8" r="1.1" fill="#b99dd2" opacity="0.9"/><circle cx="176.5" cy="265.7" r="0.9" fill="#b99dd2" opacity="0.9"/><circle cx="175.4" cy="268.5" r="1.0" fill="#b99dd2" opacity="0.9"/><circle cx="174.8" cy="270.1" r="1.0" fill="#b99dd2" opacity="0.9"/><circle cx="171.8" cy="270.0" r="1.2" fill="#b99dd2" opacity="0.9"/><circle cx="169.9" cy="270.1" r="1.2" fill="#b99dd2" opacity="0.9"/><circle cx="167.9" cy="271.3" r="1.1" fill="#b99dd2" opacity="0.9"/><circle cx="165.9" cy="269.8" r="1.3" fill="#b99dd2" opacity="0.9"/><circle cx="165.5" cy="268.5" r="0.9" fill="#b99dd2" opacity="0.9"/><circle cx="165.0" cy="267.2" r="1.3" fill="#b99dd2" opacity="0.9"/><circle cx="163.8" cy="265.9" r="1.0" fill="#b99dd2" opacity="0.9"/><circle cx="161.3" cy="263.6" r="1.3" fill="#b99dd2" opacity="0.9"/><circle cx="163.0" cy="262.7" r="1.1" fill="#b99dd2" opacity="0.9"/><circle cx="163.6" cy="260.9" r="1.2" fill="#b99dd2" opacity="0.9"/><circle cx="162.5" cy="258.7" r="1.5" fill="#b99dd2" opacity="0.9"/><circle cx="165.6" cy="258.1" r="1.5" fill="#b99dd2" opacity="0.9"/><circle cx="166.6" cy="257.2" r="0.9" fill="#b99dd2" opacity="0.9"/><circle cx="168.4" cy="256.3" r="1.2" fill="#b99dd2" opacity="0.9"/><circle cx="169.9" cy="256.0" r="0.9" fill="#b99dd2" opacity="0.9"/><circle cx="171.7" cy="257.2" r="1.1" fill="#b99dd2" opacity="0.9"/><circle cx="172.8" cy="257.8" r="1.1" fill="#b99dd2" opacity="0.9"/><circle cx="175.4" cy="257.8" r="1.2" fill="#b99dd2" opacity="0.9"/><circle cx="177.3" cy="260.0" r="1.3" fill="#b99dd2" opacity="0.9"/><circle cx="177.3" cy="262.1" r="1.1" fill="#b99dd2" opacity="0.9"/>
<ellipse cx="130.5" cy="301.8" rx="10.6" ry="12" fill="url(#g7)"/>
<circle cx="137.9" cy="302.8" r="1.3" fill="#b288c7" opacity="0.9"/><circle cx="137.4" cy="303.7" r="1.4" fill="#b288c7" opacity="0.9"/><circle cx="138.2" cy="306.7" r="1.3" fill="#b288c7" opacity="0.9"/><circle cx="136.1" cy="307.2" r="1.2" fill="#b288c7" opacity="0.9"/><circle cx="136.8" cy="309.7" r="1.4" fill="#b288c7" opacity="0.9"/><circle cx="134.2" cy="310.7" r="1.4" fill="#b288c7" opacity="0.9"/><circle cx="132.9" cy="311.6" r="1.0" fill="#b288c7" opacity="0.9"/><circle cx="132.1" cy="310.0" r="1.1" fill="#b288c7" opacity="0.9"/><circle cx="130.4" cy="312.4" r="1.2" fill="#b288c7" opacity="0.9"/><circle cx="127.5" cy="311.2" r="1.3" fill="#b288c7" opacity="0.9"/><circle cx="127.0" cy="308.7" r="1.4" fill="#b288c7" opacity="0.9"/><circle cx="124.5" cy="308.5" r="1.2" fill="#b288c7" opacity="0.9"/><circle cx="124.5" cy="306.3" r="1.3" fill="#b288c7" opacity="0.9"/><circle cx="124.1" cy="305.6" r="1.1" fill="#b288c7" opacity="0.9"/><circle cx="123.0" cy="303.1" r="1.3" fill="#b288c7" opacity="0.9"/><circle cx="122.1" cy="300.7" r="1.1" fill="#b288c7" opacity="0.9"/><circle cx="121.7" cy="299.7" r="1.4" fill="#b288c7" opacity="0.9"/><circle cx="122.5" cy="297.5" r="0.9" fill="#b288c7" opacity="0.9"/><circle cx="123.9" cy="297.3" r="1.3" fill="#b288c7" opacity="0.9"/><circle cx="124.4" cy="294.9" r="0.9" fill="#b288c7" opacity="0.9"/><circle cx="125.9" cy="294.7" r="1.3" fill="#b288c7" opacity="0.9"/><circle cx="128.1" cy="292.1" r="1.1" fill="#b288c7" opacity="0.9"/><circle cx="129.7" cy="292.4" r="1.2" fill="#b288c7" opacity="0.9"/><circle cx="130.6" cy="291.0" r="1.0" fill="#b288c7" opacity="0.9"/><circle cx="134.5" cy="291.8" r="0.9" fill="#b288c7" opacity="0.9"/><circle cx="135.1" cy="292.6" r="1.5" fill="#b288c7" opacity="0.9"/><circle cx="135.6" cy="295.2" r="1.0" fill="#b288c7" opacity="0.9"/><circle cx="137.1" cy="297.5" r="1.2" fill="#b288c7" opacity="0.9"/><circle cx="137.9" cy="297.1" r="1.5" fill="#b288c7" opacity="0.9"/><circle cx="139.4" cy="298.7" r="1.2" fill="#b288c7" opacity="0.9"/>
<ellipse cx="148.7" cy="292" rx="9.5" ry="10.3" fill="url(#g8)"/>
<circle cx="156.7" cy="292.8" r="1.0" fill="#9965b9" opacity="0.9"/><circle cx="155.8" cy="294.6" r="0.9" fill="#9965b9" opacity="0.9"/><circle cx="155.8" cy="294.8" r="1.2" fill="#9965b9" opacity="0.9"/><circle cx="154.0" cy="296.4" r="1.1" fill="#9965b9" opacity="0.9"/><circle cx="154.0" cy="299.1" r="0.9" fill="#9965b9" opacity="0.9"/><circle cx="151.6" cy="300.6" r="1.0" fill="#9965b9" opacity="0.9"/><circle cx="149.3" cy="300.8" r="1.4" fill="#9965b9" opacity="0.9"/><circle cx="148.6" cy="299.8" r="1.1" fill="#9965b9" opacity="0.9"/><circle cx="145.6" cy="299.7" r="1.1" fill="#9965b9" opacity="0.9"/><circle cx="145.3" cy="298.6" r="0.9" fill="#9965b9" opacity="0.9"/><circle cx="143.5" cy="299.2" r="1.1" fill="#9965b9" opacity="0.9"/><circle cx="142.6" cy="295.4" r="1.1" fill="#9965b9" opacity="0.9"/><circle cx="142.3" cy="294.5" r="1.1" fill="#9965b9" opacity="0.9"/><circle cx="140.2" cy="292.1" r="1.4" fill="#9965b9" opacity="0.9"/><circle cx="140.2" cy="290.6" r="1.5" fill="#9965b9" opacity="0.9"/><circle cx="141.1" cy="288.9" r="0.9" fill="#9965b9" opacity="0.9"/><circle cx="142.7" cy="287.2" r="1.4" fill="#9965b9" opacity="0.9"/><circle cx="144.1" cy="286.3" r="0.9" fill="#9965b9" opacity="0.9"/><circle cx="146.0" cy="285.5" r="1.2" fill="#9965b9" opacity="0.9"/><circle cx="146.4" cy="284.8" r="1.3" fill="#9965b9" opacity="0.9"/><circle cx="149.1" cy="284.5" r="1.3" fill="#9965b9" opacity="0.9"/><circle cx="149.7" cy="283.7" r="1.1" fill="#9965b9" opacity="0.9"/><circle cx="150.8" cy="285.1" r="1.0" fill="#9965b9" opacity="0.9"/><circle cx="153.8" cy="285.9" r="1.0" fill="#9965b9" opacity="0.9"/><circle cx="156.0" cy="286.6" r="1.2" fill="#9965b9" opacity="0.9"/><circle cx="154.5" cy="288.2" r="1.0" fill="#9965b9" opacity="0.9"/><circle cx="155.0" cy="290.1" r="1.0" fill="#9965b9" opacity="0.9"/>
<ellipse cx="169.4" cy="294.5" rx="9.6" ry="10.8" fill="url(#g9)"/>
<circle cx="177.2" cy="294.0" r="1.4" fill="#945ab9" opacity="0.9"/><circle cx="176.5" cy="296.9" r="1.1" fill="#945ab9" opacity="0.9"/><circle cx="175.9" cy="298.2" r="1.1" fill="#945ab9" opacity="0.9"/><circle cx="175.3" cy="298.9" r="1.5" fill="#945ab9" opacity="0.9"/><circle cx="174.5" cy="300.9" r="1.3" fill="#945ab9" opacity="0.9"/><circle cx="171.6" cy="301.9" r="1.1" fill="#945ab9" opacity="0.9"/><circle cx="171.1" cy="302.6" r="1.2" fill="#945ab9" opacity="0.9"/><circle cx="168.0" cy="304.0" r="1.4" fill="#945ab9" opacity="0.9"/><circle cx="168.3" cy="301.6" r="1.3" fill="#945ab9" opacity="0.9"/><circle cx="165.0" cy="301.4" r="1.3" fill="#945ab9" opacity="0.9"/><circle cx="165.0" cy="301.2" r="1.5" fill="#945ab9" opacity="0.9"/><circle cx="161.9" cy="299.1" r="1.5" fill="#945ab9" opacity="0.9"/><circle cx="163.3" cy="297.5" r="1.0" fill="#945ab9" opacity="0.9"/><circle cx="161.3" cy="295.5" r="1.5" fill="#945ab9" opacity="0.9"/><circle cx="161.5" cy="293.0" r="1.4" fill="#945ab9" opacity="0.9"/><circle cx="162.1" cy="291.6" r="0.9" fill="#945ab9" opacity="0.9"/><circle cx="163.9" cy="289.8" r="1.5" fill="#945ab9" opacity="0.9"/><circle cx="164.7" cy="288.5" r="1.0" fill="#945ab9" opacity="0.9"/><circle cx="165.0" cy="287.0" r="1.3" fill="#945ab9" opacity="0.9"/><circle cx="167.0" cy="287.7" r="1.2" fill="#945ab9" opacity="0.9"/><circle cx="169.1" cy="286.2" r="1.0" fill="#945ab9" opacity="0.9"/><circle cx="170.7" cy="287.5" r="1.1" fill="#945ab9" opacity="0.9"/><circle cx="172.8" cy="285.4" r="1.3" fill="#945ab9" opacity="0.9"/><circle cx="174.5" cy="288.2" r="1.0" fill="#945ab9" opacity="0.9"/><circle cx="175.8" cy="287.7" r="1.3" fill="#945ab9" opacity="0.9"/><circle cx="175.0" cy="291.0" r="1.2" fill="#945ab9" opacity="0.9"/><circle cx="176.7" cy="292.9" r="1.1" fill="#945ab9" opacity="0.9"/>
<ellipse cx="185.7" cy="280.8" rx="11.5" ry="11.5" fill="url(#g10)"/>
<circle cx="196.2" cy="281.2" r="1.0" fill="#945cb9" opacity="0.9"/><circle cx="194.3" cy="281.6" r="1.2" fill="#945cb9" opacity="0.9"/><circle cx="193.1" cy="284.4" r="1.4" fill="#945cb9" opacity="0.9"/><circle cx="192.9" cy="286.5" r="1.0" fill="#945cb9" opacity="0.9"/><circle cx="190.9" cy="287.6" r="1.4" fill="#945cb9" opacity="0.9"/><circle cx="190.5" cy="287.5" r="1.4" fill="#945cb9" opacity="0.9"/><circle cx="189.8" cy="290.5" r="1.2" fill="#945cb9" opacity="0.9"/><circle cx="187.6" cy="288.9" r="1.2" fill="#945cb9" opacity="0.9"/><circle cx="184.7" cy="291.3" r="1.0" fill="#945cb9" opacity="0.9"/><circle cx="183.8" cy="288.8" r="1.5" fill="#945cb9" opacity="0.9"/><circle cx="182.9" cy="288.0" r="0.9" fill="#945cb9" opacity="0.9"/><circle cx="179.6" cy="289.2" r="1.4" fill="#945cb9" opacity="0.9"/><circle cx="177.2" cy="287.3" r="1.5" fill="#945cb9" opacity="0.9"/><circle cx="178.7" cy="285.1" r="1.5" fill="#945cb9" opacity="0.9"/><circle cx="178.2" cy="282.7" r="1.3" fill="#945cb9" opacity="0.9"/><circle cx="177.0" cy="281.9" r="1.1" fill="#945cb9" opacity="0.9"/><circle cx="178.1" cy="280.6" r="1.1" fill="#945cb9" opacity="0.9"/><circle cx="175.5" cy="278.0" r="1.0" fill="#945cb9" opacity="0.9"/><circle cx="179.0" cy="276.0" r="1.1" fill="#945cb9" opacity="0.9"/><circle cx="178.5" cy="273.6" r="1.2" fill="#945cb9" opacity="0.9"/><circle cx="179.4" cy="274.3" r="1.1" fill="#945cb9" opacity="0.9"/><circle cx="182.9" cy="273.1" r="1.1" fill="#945cb9" opacity="0.9"/><circle cx="184.5" cy="273.2" r="1.1" fill="#945cb9" opacity="0.9"/><circle cx="185.9" cy="270.8" r="0.9" fill="#945cb9" opacity="0.9"/><circle cx="186.0" cy="273.0" r="1.5" fill="#945cb9" opacity="0.9"/><circle cx="188.6" cy="271.3" r="1.4" fill="#945cb9" opacity="0.9"/><circle cx="189.9" cy="273.5" r="1.5" fill="#945cb9" opacity="0.9"/><circle cx="191.7" cy="274.9" r="1.3" fill="#945cb9" opacity="0.9"/><circle cx="192.4" cy="275.7" r="0.9" fill="#945cb9" opacity="0.9"/><circle cx="195.5" cy="277.3" r="1.3" fill="#945cb9" opacity="0.9"/><circle cx="193.3" cy="280.1" r="1.0" fill="#945cb9" opacity="0.9"/>
<ellipse cx="207.6" cy="292" rx="9.4" ry="11.5" fill="url(#g11)"/>
<circle cx="216.2" cy="291.9" r="1.5" fill="#9968bd" opacity="0.9"/><circle cx="214.3" cy="293.6" r="1.2" fill="#9968bd" opacity="0.9"/><circle cx="215.3" cy="296.5" r="1.0" fill="#9968bd" opacity="0.9"/><circle cx="213.5" cy="298.7" r="1.4" fill="#9968bd" opacity="0.9"/><circle cx="212.0" cy="299.8" r="1.1" fill="#9968bd" opacity="0.9"/><circle cx="211.0" cy="299.7" r="1.4" fill="#9968bd" opacity="0.9"/><circle cx="209.7" cy="299.8" r="1.4" fill="#9968bd" opacity="0.9"/><circle cx="208.0" cy="299.8" r="0.9" fill="#9968bd" opacity="0.9"/><circle cx="205.9" cy="300.4" r="1.5" fill="#9968bd" opacity="0.9"/><circle cx="203.1" cy="301.1" r="1.1" fill="#9968bd" opacity="0.9"/><circle cx="204.1" cy="298.6" r="1.2" fill="#9968bd" opacity="0.9"/><circle cx="201.6" cy="297.2" r="1.0" fill="#9968bd" opacity="0.9"/><circle cx="200.7" cy="296.3" r="1.3" fill="#9968bd" opacity="0.9"/><circle cx="199.4" cy="293.7" r="1.3" fill="#9968bd" opacity="0.9"/><circle cx="199.3" cy="292.9" r="1.1" fill="#9968bd" opacity="0.9"/><circle cx="200.7" cy="289.9" r="1.3" fill="#9968bd" opacity="0.9"/><circle cx="201.2" cy="288.9" r="1.0" fill="#9968bd" opacity="0.9"/><circle cx="200.6" cy="286.2" r="1.2" fill="#9968bd" opacity="0.9"/><circle cx="202.9" cy="285.3" r="1.5" fill="#9968bd" opacity="0.9"/><circle cx="204.7" cy="284.5" r="1.4" fill="#9968bd" opacity="0.9"/><circle cx="206.0" cy="281.5" r="1.0" fill="#9968bd" opacity="0.9"/><circle cx="207.5" cy="281.9" r="1.4" fill="#9968bd" opacity="0.9"/><circle cx="209.6" cy="284.7" r="1.1" fill="#9968bd" opacity="0.9"/><circle cx="209.9" cy="284.3" r="1.5" fill="#9968bd" opacity="0.9"/><circle cx="213.1" cy="283.9" r="1.1" fill="#9968bd" opacity="0.9"/><circle cx="213.7" cy="287.0" r="1.1" fill="#9968bd" opacity="0.9"/><circle cx="215.6" cy="288.1" r="1.0" fill="#9968bd" opacity="0.9"/><circle cx="215.2" cy="290.1" r="1.0" fill="#9968bd" opacity="0.9"/>
<ellipse cx="226.4" cy="297" rx="8.5" ry="10" fill="url(#g12)"/>
<circle cx="232.3" cy="296.8" r="1.0" fill="#bd99d2" opacity="0.9"/><circle cx="233.3" cy="298.6" r="1.3" fill="#bd99d2" opacity="0.9"/><circle cx="231.5" cy="299.8" r="1.1" fill="#bd99d2" opacity="0.9"/><circle cx="230.6" cy="302.1" r="1.1" fill="#bd99d2" opacity="0.9"/><circle cx="230.8" cy="304.0" r="1.2" fill="#bd99d2" opacity="0.9"/><circle cx="228.8" cy="303.3" r="1.1" fill="#bd99d2" opacity="0.9"/><circle cx="226.8" cy="305.3" r="1.0" fill="#bd99d2" opacity="0.9"/><circle cx="225.6" cy="305.4" r="1.1" fill="#bd99d2" opacity="0.9"/><circle cx="224.0" cy="303.9" r="1.5" fill="#bd99d2" opacity="0.9"/><circle cx="222.2" cy="303.5" r="1.1" fill="#bd99d2" opacity="0.9"/><circle cx="220.3" cy="302.4" r="1.5" fill="#bd99d2" opacity="0.9"/><circle cx="220.8" cy="299.8" r="1.3" fill="#bd99d2" opacity="0.9"/><circle cx="220.9" cy="298.3" r="1.4" fill="#bd99d2" opacity="0.9"/><circle cx="219.0" cy="296.1" r="1.1" fill="#bd99d2" opacity="0.9"/><circle cx="220.5" cy="293.5" r="1.0" fill="#bd99d2" opacity="0.9"/><circle cx="220.4" cy="293.0" r="1.3" fill="#bd99d2" opacity="0.9"/><circle cx="223.2" cy="291.3" r="1.3" fill="#bd99d2" opacity="0.9"/><circle cx="223.3" cy="289.9" r="1.0" fill="#bd99d2" opacity="0.9"/><circle cx="224.8" cy="289.2" r="1.5" fill="#bd99d2" opacity="0.9"/><circle cx="226.2" cy="289.1" r="1.4" fill="#bd99d2" opacity="0.9"/><circle cx="228.9" cy="290.5" r="1.0" fill="#bd99d2" opacity="0.9"/><circle cx="231.3" cy="289.8" r="1.2" fill="#bd99d2" opacity="0.9"/><circle cx="231.4" cy="290.1" r="1.1" fill="#bd99d2" opacity="0.9"/><circle cx="232.9" cy="293.7" r="1.4" fill="#bd99d2" opacity="0.9"/><circle cx="233.4" cy="294.2" r="1.0" fill="#bd99d2" opacity="0.9"/>
<ellipse cx="74.2" cy="326.2" rx="11" ry="10.6" fill="url(#g13)"/>
<circle cx="84.0" cy="326.0" r="1.4" fill="#b988cc" opacity="0.9"/><circle cx="82.0" cy="327.3" r="1.1" fill="#b988cc" opacity="0.9"/><circle cx="81.8" cy="329.6" r="1.0" fill="#b988cc" opacity="0.9"/><circle cx="82.0" cy="331.2" r="1.4" fill="#b988cc" opacity="0.9"/><circle cx="80.7" cy="332.1" r="1.4" fill="#b988cc" opacity="0.9"/><circle cx="79.7" cy="334.0" r="1.0" fill="#b988cc" opacity="0.9"/><circle cx="76.4" cy="334.5" r="1.3" fill="#b988cc" opacity="0.9"/><circle cx="75.1" cy="334.4" r="1.2" fill="#b988cc" opacity="0.9"/><circle cx="72.9" cy="335.0" r="1.2" fill="#b988cc" opacity="0.9"/><circle cx="71.6" cy="332.8" r="1.3" fill="#b988cc" opacity="0.9"/><circle cx="69.8" cy="332.6" r="1.4" fill="#b988cc" opacity="0.9"/><circle cx="67.6" cy="331.5" r="1.0" fill="#b988cc" opacity="0.9"/><circle cx="67.7" cy="330.0" r="1.0" fill="#b988cc" opacity="0.9"/><circle cx="67.1" cy="328.6" r="1.2" fill="#b988cc" opacity="0.9"/><circle cx="66.9" cy="327.0" r="1.3" fill="#b988cc" opacity="0.9"/><circle cx="64.8" cy="326.1" r="1.4" fill="#b988cc" opacity="0.9"/><circle cx="67.2" cy="323.9" r="1.2" fill="#b988cc" opacity="0.9"/><circle cx="65.4" cy="321.4" r="1.0" fill="#b988cc" opacity="0.9"/><circle cx="67.4" cy="318.8" r="1.3" fill="#b988cc" opacity="0.9"/><circle cx="70.3" cy="319.6" r="1.5" fill="#b988cc" opacity="0.9"/><circle cx="70.4" cy="317.2" r="1.4" fill="#b988cc" opacity="0.9"/><circle cx="71.9" cy="317.2" r="1.5" fill="#b988cc" opacity="0.9"/><circle cx="73.8" cy="318.2" r="1.4" fill="#b988cc" opacity="0.9"/><circle cx="76.1" cy="316.8" r="1.1" fill="#b988cc" opacity="0.9"/><circle cx="78.3" cy="319.9" r="1.2" fill="#b988cc" opacity="0.9"/><circle cx="79.9" cy="320.9" r="1.1" fill="#b988cc" opacity="0.9"/><circle cx="80.7" cy="321.4" r="0.9" fill="#b988cc" opacity="0.9"/><circle cx="81.0" cy="322.6" r="1.5" fill="#b988cc" opacity="0.9"/><circle cx="84.0" cy="324.5" r="1.0" fill="#b988cc" opacity="0.9"/>
<ellipse cx="84.2" cy="350.6" rx="10.6" ry="8.8" fill="url(#g14)"/>
<circle cx="91.5" cy="351.0" r="1.2" fill="#996cb9" opacity="0.9"/><circle cx="91.9" cy="352.4" r="1.4" fill="#996cb9" opacity="0.9"/><circle cx="91.8" cy="354.0" r="1.4" fill="#996cb9" opacity="0.9"/><circle cx="92.1" cy="355.4" r="1.3" fill="#996cb9" opacity="0.9"/><circle cx="89.7" cy="356.8" r="1.1" fill="#996cb9" opacity="0.9"/><circle cx="86.3" cy="357.6" r="1.1" fill="#996cb9" opacity="0.9"/><circle cx="84.7" cy="357.4" r="1.0" fill="#996cb9" opacity="0.9"/><circle cx="82.9" cy="356.4" r="1.4" fill="#996cb9" opacity="0.9"/><circle cx="81.6" cy="357.6" r="1.5" fill="#996cb9" opacity="0.9"/><circle cx="79.0" cy="356.6" r="1.1" fill="#996cb9" opacity="0.9"/><circle cx="79.5" cy="355.0" r="1.0" fill="#996cb9" opacity="0.9"/><circle cx="76.8" cy="353.6" r="1.2" fill="#996cb9" opacity="0.9"/><circle cx="76.9" cy="351.5" r="1.0" fill="#996cb9" opacity="0.9"/><circle cx="77.1" cy="350.4" r="0.9" fill="#996cb9" opacity="0.9"/><circle cx="77.1" cy="349.4" r="1.1" fill="#996cb9" opacity="0.9"/><circle cx="76.3" cy="347.7" r="1.3" fill="#996cb9" opacity="0.9"/><circle cx="77.2" cy="346.2" r="1.2" fill="#996cb9" opacity="0.9"/><circle cx="78.0" cy="344.4" r="1.0" fill="#996cb9" opacity="0.9"/><circle cx="81.1" cy="345.2" r="1.3" fill="#996cb9" opacity="0.9"/><circle cx="83.9" cy="342.9" r="1.1" fill="#996cb9" opacity="0.9"/><circle cx="84.7" cy="344.8" r="1.3" fill="#996cb9" opacity="0.9"/><circle cx="87.1" cy="344.4" r="1.3" fill="#996cb9" opacity="0.9"/><circle cx="89.6" cy="343.9" r="1.3" fill="#996cb9" opacity="0.9"/><circle cx="91.0" cy="345.0" r="0.9" fill="#996cb9" opacity="0.9"/><circle cx="91.5" cy="347.5" r="1.0" fill="#996cb9" opacity="0.9"/><circle cx="92.9" cy="348.0" r="0.9" fill="#996cb9" opacity="0.9"/>
<ellipse cx="112.4" cy="372.5" rx="9.4" ry="9.7" fill="url(#g15)"/>
<circle cx="121.0" cy="372.6" r="1.0" fill="#996dbb" opacity="0.9"/><circle cx="120.0" cy="373.8" r="1.2" fill="#996dbb" opacity="0.9"/><circle cx="119.6" cy="376.7" r="1.0" fill="#996dbb" opacity="0.9"/><circle cx="117.8" cy="377.0" r="0.9" fill="#996dbb" opacity="0.9"/><circle cx="116.4" cy="379.9" r="1.3" fill="#996dbb" opacity="0.9"/><circle cx="116.3" cy="380.1" r="1.3" fill="#996dbb" opacity="0.9"/><circle cx="113.4" cy="380.8" r="1.2" fill="#996dbb" opacity="0.9"/><circle cx="112.0" cy="379.2" r="1.0" fill="#996dbb" opacity="0.9"/><circle cx="110.6" cy="379.6" r="1.3" fill="#996dbb" opacity="0.9"/><circle cx="107.3" cy="379.4" r="1.3" fill="#996dbb" opacity="0.9"/><circle cx="107.0" cy="378.0" r="1.2" fill="#996dbb" opacity="0.9"/><circle cx="105.5" cy="375.6" r="1.1" fill="#996dbb" opacity="0.9"/><circle cx="103.9" cy="374.3" r="1.0" fill="#996dbb" opacity="0.9"/><circle cx="106.2" cy="371.9" r="1.1" fill="#996dbb" opacity="0.9"/><circle cx="104.4" cy="371.0" r="1.5" fill="#996dbb" opacity="0.9"/><circle cx="106.4" cy="368.8" r="1.4" fill="#996dbb" opacity="0.9"/><circle cx="107.1" cy="368.1" r="1.4" fill="#996dbb" opacity="0.9"/><circle cx="108.1" cy="365.6" r="1.3" fill="#996dbb" opacity="0.9"/><circle cx="110.6" cy="365.1" r="1.4" fill="#996dbb" opacity="0.9"/><circle cx="111.8" cy="363.9" r="1.2" fill="#996dbb" opacity="0.9"/><circle cx="113.7" cy="364.7" r="1.1" fill="#996dbb" opacity="0.9"/><circle cx="114.7" cy="364.8" r="0.9" fill="#996dbb" opacity="0.9"/><circle cx="116.6" cy="367.3" r="0.9" fill="#996dbb" opacity="0.9"/><circle cx="118.2" cy="366.0" r="1.1" fill="#996dbb" opacity="0.9"/><circle cx="117.7" cy="369.0" r="0.9" fill="#996dbb" opacity="0.9"/><circle cx="120.1" cy="370.9" r="1.3" fill="#996dbb" opacity="0.9"/>
<ellipse cx="126.9" cy="325.6" rx="10" ry="9.7" fill="url(#g16)"/>
<circle cx="133.7" cy="326.0" r="1.3" fill="#9d73c0" opacity="0.9"/><circle cx="135.5" cy="327.4" r="1.4" fill="#9d73c0" opacity="0.9"/><circle cx="132.6" cy="329.2" r="1.4" fill="#9d73c0" opacity="0.9"/><circle cx="133.1" cy="332.1" r="1.0" fill="#9d73c0" opacity="0.9"/><circle cx="131.2" cy="330.8" r="0.9" fill="#9d73c0" opacity="0.9"/><circle cx="129.3" cy="333.8" r="1.3" fill="#9d73c0" opacity="0.9"/><circle cx="127.3" cy="333.6" r="1.1" fill="#9d73c0" opacity="0.9"/><circle cx="126.7" cy="332.3" r="1.4" fill="#9d73c0" opacity="0.9"/><circle cx="124.8" cy="332.5" r="1.2" fill="#9d73c0" opacity="0.9"/><circle cx="123.5" cy="331.8" r="1.1" fill="#9d73c0" opacity="0.9"/><circle cx="121.0" cy="330.2" r="1.1" fill="#9d73c0" opacity="0.9"/><circle cx="119.5" cy="328.4" r="1.4" fill="#9d73c0" opacity="0.9"/><circle cx="120.4" cy="327.0" r="1.1" fill="#9d73c0" opacity="0.9"/><circle cx="118.2" cy="325.7" r="1.1" fill="#9d73c0" opacity="0.9"/><circle cx="119.2" cy="323.4" r="1.0" fill="#9d73c0" opacity="0.9"/><circle cx="121.1" cy="322.0" r="1.4" fill="#9d73c0" opacity="0.9"/><circle cx="121.6" cy="321.7" r="1.0" fill="#9d73c0" opacity="0.9"/><circle cx="122.1" cy="317.9" r="0.9" fill="#9d73c0" opacity="0.9"/><circle cx="124.1" cy="318.4" r="1.4" fill="#9d73c0" opacity="0.9"/><circle cx="125.4" cy="318.1" r="1.1" fill="#9d73c0" opacity="0.9"/><circle cx="128.4" cy="318.7" r="1.5" fill="#9d73c0" opacity="0.9"/><circle cx="129.1" cy="319.0" r="1.3" fill="#9d73c0" opacity="0.9"/><circle cx="130.8" cy="320.1" r="1.3" fill="#9d73c0" opacity="0.9"/><circle cx="132.8" cy="319.4" r="1.3" fill="#9d73c0" opacity="0.9"/><circle cx="134.5" cy="322.4" r="1.1" fill="#9d73c0" opacity="0.9"/><circle cx="134.3" cy="323.7" r="1.4" fill="#9d73c0" opacity="0.9"/>
<ellipse cx="138.1" cy="341.2" rx="10" ry="9" fill="url(#g17)"/>
<circle cx="147.1" cy="340.4" r="0.9" fill="#8d53b5" opacity="0.9"/><circle cx="145.3" cy="342.4" r="1.4" fill="#8d53b5" opacity="0.9"/><circle cx="144.8" cy="344.5" r="1.4" fill="#8d53b5" opacity="0.9"/><circle cx="144.1" cy="345.7" r="1.2" fill="#8d53b5" opacity="0.9"/><circle cx="142.3" cy="348.0" r="1.3" fill="#8d53b5" opacity="0.9"/><circle cx="140.7" cy="347.5" r="1.0" fill="#8d53b5" opacity="0.9"/><circle cx="137.9" cy="348.7" r="1.3" fill="#8d53b5" opacity="0.9"/><circle cx="137.3" cy="348.2" r="1.4" fill="#8d53b5" opacity="0.9"/><circle cx="135.0" cy="346.8" r="1.2" fill="#8d53b5" opacity="0.9"/><circle cx="133.0" cy="345.8" r="1.0" fill="#8d53b5" opacity="0.9"/><circle cx="131.5" cy="346.0" r="1.4" fill="#8d53b5" opacity="0.9"/><circle cx="131.8" cy="344.0" r="1.0" fill="#8d53b5" opacity="0.9"/><circle cx="130.2" cy="342.4" r="1.0" fill="#8d53b5" opacity="0.9"/><circle cx="131.0" cy="340.7" r="1.5" fill="#8d53b5" opacity="0.9"/><circle cx="131.9" cy="338.6" r="1.5" fill="#8d53b5" opacity="0.9"/><circle cx="131.5" cy="337.7" r="1.5" fill="#8d53b5" opacity="0.9"/><circle cx="133.1" cy="334.9" r="1.2" fill="#8d53b5" opacity="0.9"/><circle cx="134.0" cy="334.7" r="1.0" fill="#8d53b5" opacity="0.9"/><circle cx="136.1" cy="334.5" r="0.9" fill="#8d53b5" opacity="0.9"/><circle cx="138.4" cy="333.3" r="1.3" fill="#8d53b5" opacity="0.9"/><circle cx="140.7" cy="334.1" r="1.2" fill="#8d53b5" opacity="0.9"/><circle cx="141.9" cy="334.6" r="1.1" fill="#8d53b5" opacity="0.9"/><circle cx="145.0" cy="336.0" r="1.2" fill="#8d53b5" opacity="0.9"/><circle cx="145.7" cy="337.6" r="1.2" fill="#8d53b5" opacity="0.9"/><circle cx="146.2" cy="338.8" r="1.4" fill="#8d53b5" opacity="0.9"/>
<ellipse cx="191.2" cy="328.2" rx="5" ry="5" fill="url(#g18)"/>
<circle cx="195.4" cy="328.5" r="1.4" fill="#c09dd2" opacity="0.9"/><circle cx="194.8" cy="330.3" r="1.2" fill="#c09dd2" opacity="0.9"/><circle cx="193.7" cy="331.5" r="1.0" fill="#c09dd2" opacity="0.9"/><circle cx="191.8" cy="332.5" r="1.3" fill="#c09dd2" opacity="0.9"/><circle cx="189.8" cy="331.6" r="1.2" fill="#c09dd2" opacity="0.9"/><circle cx="188.1" cy="331.0" r="1.1" fill="#c09dd2" opacity="0.9"/><circle cx="186.7" cy="329.1" r="1.0" fill="#c09dd2" opacity="0.9"/><circle cx="187.0" cy="327.0" r="1.1" fill="#c09dd2" opacity="0.9"/><circle cx="187.7" cy="325.1" r="0.9" fill="#c09dd2" opacity="0.9"/><circle cx="190.0" cy="324.9" r="1.4" fill="#c09dd2" opacity="0.9"/><circle cx="192.1" cy="324.3" r="1.0" fill="#c09dd2" opacity="0.9"/><circle cx="193.5" cy="324.9" r="1.3" fill="#c09dd2" opacity="0.9"/><circle cx="194.9" cy="326.3" r="1.4" fill="#c09dd2" opacity="0.9"/>
<ellipse cx="228.8" cy="389.8" rx="11.2" ry="10" fill="url(#g19)"/>
<circle cx="237.4" cy="389.8" r="1.5" fill="#b28fd2" opacity="0.9"/><circle cx="238.1" cy="391.1" r="1.1" fill="#b28fd2" opacity="0.9"/><circle cx="235.6" cy="393.2" r="1.5" fill="#b28fd2" opacity="0.9"/><circle cx="234.9" cy="393.8" r="1.1" fill="#b28fd2" opacity="0.9"/><circle cx="233.6" cy="394.9" r="1.2" fill="#b28fd2" opacity="0.9"/><circle cx="233.1" cy="397.4" r="1.1" fill="#b28fd2" opacity="0.9"/><circle cx="231.0" cy="396.7" r="1.3" fill="#b28fd2" opacity="0.9"/><circle cx="227.9" cy="397.8" r="1.0" fill="#b28fd2" opacity="0.9"/><circle cx="226.3" cy="397.1" r="1.0" fill="#b28fd2" opacity="0.9"/><circle cx="225.4" cy="397.9" r="1.4" fill="#b28fd2" opacity="0.9"/><circle cx="223.1" cy="395.8" r="1.2" fill="#b28fd2" opacity="0.9"/><circle cx="221.2" cy="396.0" r="1.1" fill="#b28fd2" opacity="0.9"/><circle cx="219.8" cy="393.4" r="1.4" fill="#b28fd2" opacity="0.9"/><circle cx="220.7" cy="391.5" r="1.2" fill="#b28fd2" opacity="0.9"/><circle cx="218.9" cy="390.6" r="1.1" fill="#b28fd2" opacity="0.9"/><circle cx="221.0" cy="387.6" r="1.1" fill="#b28fd2" opacity="0.9"/><circle cx="220.8" cy="386.9" r="1.0" fill="#b28fd2" opacity="0.9"/><circle cx="220.7" cy="385.3" r="1.1" fill="#b28fd2" opacity="0.9"/><circle cx="223.2" cy="384.3" r="1.2" fill="#b28fd2" opacity="0.9"/><circle cx="224.6" cy="382.4" r="1.3" fill="#b28fd2" opacity="0.9"/><circle cx="226.2" cy="381.0" r="1.4" fill="#b28fd2" opacity="0.9"/><circle cx="227.8" cy="381.0" r="1.4" fill="#b28fd2" opacity="0.9"/><circle cx="231.1" cy="383.1" r="1.4" fill="#b28fd2" opacity="0.9"/><circle cx="232.2" cy="383.9" r="0.9" fill="#b28fd2" opacity="0.9"/><circle cx="235.4" cy="383.9" r="1.1" fill="#b28fd2" opacity="0.9"/><circle cx="234.4" cy="384.9" r="1.0" fill="#b28fd2" opacity="0.9"/><circle cx="236.6" cy="387.0" r="1.0" fill="#b28fd2" opacity="0.9"/><circle cx="238.5" cy="388.7" r="1.0" fill="#b28fd2" opacity="0.9"/>
<ellipse cx="248.2" cy="367.5" rx="4" ry="7.5" fill="url(#g20)"/>
<circle cx="251.5" cy="368.1" r="1.4" fill="#a76fc7" opacity="0.9"/><circle cx="251.4" cy="370.5" r="1.4" fill="#a76fc7" opacity="0.9"/><circle cx="249.9" cy="371.8" r="1.3" fill="#a76fc7" opacity="0.9"/><circle cx="249.2" cy="373.7" r="1.2" fill="#a76fc7" opacity="0.9"/><circle cx="247.6" cy="373.5" r="1.1" fill="#a76fc7" opacity="0.9"/><circle cx="247.0" cy="372.2" r="1.2" fill="#a76fc7" opacity="0.9"/><circle cx="245.9" cy="371.5" r="1.0" fill="#a76fc7" opacity="0.9"/><circle cx="245.1" cy="368.8" r="1.2" fill="#a76fc7" opacity="0.9"/><circle cx="245.7" cy="366.0" r="1.4" fill="#a76fc7" opacity="0.9"/><circle cx="245.6" cy="364.0" r="1.3" fill="#a76fc7" opacity="0.9"/><circle cx="246.9" cy="362.3" r="1.2" fill="#a76fc7" opacity="0.9"/><circle cx="248.2" cy="362.4" r="1.3" fill="#a76fc7" opacity="0.9"/><circle cx="249.1" cy="362.8" r="1.3" fill="#a76fc7" opacity="0.9"/><circle cx="250.8" cy="362.6" r="1.1" fill="#a76fc7" opacity="0.9"/><circle cx="251.2" cy="365.7" r="1.2" fill="#a76fc7" opacity="0.9"/>
</g><g filter="url(#b3)">
<ellipse cx="79.2" cy="368.8" rx="4.6" ry="4.6" fill="url(#g21)" opacity="0.8"/>
<ellipse cx="91" cy="368.8" rx="5.4" ry="6" fill="url(#g22)"/>
<ellipse cx="137.5" cy="274.5" rx="5.8" ry="7" fill="url(#g23)" opacity="0.92"/>
<ellipse cx="133.5" cy="275" rx="2.2" ry="3.2" fill="#eee0f1" opacity="0.9"/>
<ellipse cx="152" cy="272" rx="3" ry="2.5" fill="#cea4dc" opacity="0.9"/>
<ellipse cx="172" cy="266" rx="3" ry="2.5" fill="#cba7dc" opacity="0.9"/>
<ellipse cx="134" cy="303" rx="3.5" ry="4" fill="#cba0d9" opacity="0.9"/>
<ellipse cx="145.8" cy="292.6" rx="3.4" ry="3.8" fill="#f3f0f8" opacity="0.9"/>
<ellipse cx="169.6" cy="294.5" rx="5.6" ry="8.2" fill="url(#g24)" opacity="0.92"/>
<ellipse cx="184.3" cy="279.8" rx="8" ry="7.6" fill="url(#g25)" opacity="0.92"/>
<ellipse cx="183" cy="278" rx="3.4" ry="2.2" fill="#e7abea" opacity="0.9"/>
<ellipse cx="206.2" cy="287" rx="5.6" ry="5.2" fill="url(#g26)" opacity="0.92"/>
<ellipse cx="205.5" cy="295.5" rx="2" ry="2.6" fill="#f3eaf7" opacity="0.9"/>
<ellipse cx="224.6" cy="300.2" rx="5" ry="5.2" fill="url(#g27)" opacity="0.92"/>
<ellipse cx="70.5" cy="327" rx="6" ry="7" fill="url(#g28)" opacity="0.92"/>
<ellipse cx="82.4" cy="350.6" rx="6.9" ry="6.6" fill="url(#g29)" opacity="0.92"/>
<ellipse cx="114.2" cy="371.9" rx="5" ry="5" fill="url(#g30)" opacity="0.92"/>
<ellipse cx="114.5" cy="372" rx="1.3" ry="1.3" fill="#e3b2f1" opacity="0.9"/>
<ellipse cx="129.4" cy="327.5" rx="5.6" ry="5.6" fill="url(#g31)" opacity="0.92"/>
<ellipse cx="138.6" cy="341" rx="6.4" ry="6" fill="url(#g32)" opacity="0.92"/>
<ellipse cx="230.5" cy="391" rx="5.5" ry="4.5" fill="url(#g33)" opacity="0.92"/>
</g></g>
<g clip-path="url(#cr)">
<g filter="url(#b2)">
<ellipse cx="336.8" cy="276.5" rx="15.2" ry="13.2" fill="#faf9fd"/>
<ellipse cx="336.8" cy="276.5" rx="13.2" ry="11.2" fill="#f7f5fb"/>
<ellipse cx="286" cy="309" rx="17.2" ry="17.2" fill="#faf9fd"/>
<ellipse cx="286" cy="309" rx="15.2" ry="15.2" fill="#f2eff8"/>
<ellipse cx="288" cy="338" rx="19.2" ry="16.2" fill="#faf9fd"/>
<ellipse cx="288" cy="338" rx="17.2" ry="14.2" fill="#f2eff8"/>
<ellipse cx="316" cy="304" rx="16.2" ry="18.2" fill="#faf9fd"/>
<ellipse cx="316" cy="304" rx="14.2" ry="16.2" fill="#f3f0f8"/>
<ellipse cx="325" cy="340" rx="17.7" ry="18.2" fill="#faf9fd"/>
<ellipse cx="325" cy="340" rx="15.7" ry="16.2" fill="#efebf6"/>
<ellipse cx="357.5" cy="343" rx="16.7" ry="19.2" fill="#faf9fd"/>
<ellipse cx="357.5" cy="343" rx="14.7" ry="17.2" fill="#f2eff8"/>
<ellipse cx="350" cy="370" rx="18.2" ry="16.2" fill="#faf9fd"/>
<ellipse cx="350" cy="370" rx="16.2" ry="14.2" fill="#f2eff8"/>
<ellipse cx="388" cy="338" rx="18.2" ry="18.2" fill="#faf9fd"/>
<ellipse cx="388" cy="338" rx="16.2" ry="16.2" fill="#f2eff8"/>
<ellipse cx="384" cy="370" rx="18.2" ry="16.2" fill="#faf9fd"/>
<ellipse cx="384" cy="370" rx="16.2" ry="14.2" fill="#f3f0f8"/>
<ellipse cx="432" cy="346" rx="17.2" ry="16.2" fill="#faf9fd"/>
<ellipse cx="432" cy="346" rx="15.2" ry="14.2" fill="#f3f0f8"/>
</g><g filter="url(#tex2)">
<ellipse cx="329.2" cy="276.2" rx="5.9" ry="5.7" fill="url(#g34)"/>
<ellipse cx="327.8" cy="269.8" rx="5.7" ry="5.8" fill="url(#g34)"/>
<ellipse cx="328.5" cy="273" rx="4.2" ry="6.2" fill="#d2b0ea" transform="rotate(-12 328.5 273)"/>
<circle cx="328.6" cy="272.9" r="1.2" fill="#9460cc" opacity="0.7"/>
<circle cx="328.7" cy="273.3" r="1.2" fill="#d0a8ea" opacity="0.7"/>
<circle cx="326.7" cy="273.4" r="1.3" fill="#dcc0f0" opacity="0.7"/>
<circle cx="328.2" cy="274.7" r="1.0" fill="#dcc0f0" opacity="0.7"/>
<circle cx="329.0" cy="271.7" r="1.3" fill="#d0a8ea" opacity="0.7"/>
<circle cx="326.8" cy="277.4" r="1.3" fill="#d0a8ea" opacity="0.7"/>
<circle cx="330.7" cy="272.5" r="1.3" fill="#d0a8ea" opacity="0.7"/>
<circle cx="329.4" cy="276.4" r="0.9" fill="#9460cc" opacity="0.7"/>
<circle cx="331.5" cy="275.7" r="1.0" fill="#9460cc" opacity="0.7"/>
<circle cx="329.9" cy="271.1" r="0.8" fill="#d0a8ea" opacity="0.7"/>
<circle cx="328.6" cy="273.2" r="1.3" fill="#d0a8ea" opacity="0.7"/>
<ellipse cx="344.6" cy="277.7" rx="7.2" ry="8.8" fill="url(#g35)" transform="rotate(25 344.6 277.7)"/>
<circle cx="342.4" cy="275.5" r="1.3" fill="#9460cc" opacity="0.7"/>
<circle cx="342.6" cy="275.6" r="1.2" fill="#9460cc" opacity="0.7"/>
<circle cx="343.2" cy="273.4" r="0.8" fill="#dcc0f0" opacity="0.7"/>
<circle cx="343.6" cy="275.6" r="1.3" fill="#dcc0f0" opacity="0.7"/>
<circle cx="342.7" cy="273.8" r="1.1" fill="#dcc0f0" opacity="0.7"/>
<circle cx="347.0" cy="275.9" r="1.0" fill="#dcc0f0" opacity="0.7"/>
<circle cx="345.2" cy="274.8" r="1.0" fill="#d0a8ea" opacity="0.7"/>
<circle cx="344.7" cy="277.9" r="0.8" fill="#9460cc" opacity="0.7"/>
<circle cx="342.1" cy="273.9" r="0.8" fill="#9460cc" opacity="0.7"/>
<circle cx="341.1" cy="277.1" r="1.3" fill="#d0a8ea" opacity="0.7"/>
<circle cx="341.1" cy="275.5" r="1.1" fill="#dcc0f0" opacity="0.7"/>
<circle cx="343.5" cy="274.9" r="1.4" fill="#9460cc" opacity="0.7"/>
<circle cx="346.6" cy="277.4" r="1.0" fill="#dcc0f0" opacity="0.7"/>
<circle cx="346.4" cy="278.9" r="1.3" fill="#9460cc" opacity="0.7"/>
<ellipse cx="276.8" cy="310.5" rx="6.1" ry="5.9" fill="url(#g36)"/>
<ellipse cx="278.0" cy="302.5" rx="5.9" ry="6.0" fill="url(#g36)"/>
<ellipse cx="277.4" cy="306.5" rx="4.3" ry="6.9" fill="#c8a0e8" transform="rotate(8 277.4 306.5)"/>
<circle cx="277.4" cy="306.5" r="1.2" fill="#dcc0f0" opacity="0.7"/>
<circle cx="280.5" cy="306.1" r="0.9" fill="#dcc0f0" opacity="0.7"/>
<circle cx="277.4" cy="306.6" r="1.2" fill="#dcc0f0" opacity="0.7"/>
<circle cx="274.8" cy="307.8" r="1.4" fill="#d0a8ea" opacity="0.7"/>
<circle cx="277.8" cy="302.4" r="1.3" fill="#9460cc" opacity="0.7"/>
<circle cx="277.5" cy="304.8" r="1.1" fill="#d0a8ea" opacity="0.7"/>
<circle cx="274.1" cy="307.8" r="1.0" fill="#dcc0f0" opacity="0.7"/>
<circle cx="277.4" cy="306.4" r="0.8" fill="#9460cc" opacity="0.7"/>
<circle cx="276.5" cy="303.2" r="1.0" fill="#d0a8ea" opacity="0.7"/>
<circle cx="277.3" cy="305.6" r="1.3" fill="#d0a8ea" opacity="0.7"/>
<circle cx="276.5" cy="305.3" r="1.4" fill="#9460cc" opacity="0.7"/>
<circle cx="275.1" cy="308.0" r="0.9" fill="#dcc0f0" opacity="0.7"/>
<circle cx="275.9" cy="309.3" r="1.2" fill="#d0a8ea" opacity="0.7"/>
<ellipse cx="293.0" cy="315.4" rx="6.4" ry="6.2" fill="url(#g37)"/>
<ellipse cx="294.0" cy="308.6" rx="6.2" ry="6.3" fill="url(#g37)"/>
<ellipse cx="293.5" cy="312" rx="4.5" ry="6.6" fill="#c090e4" transform="rotate(8 293.5 312)"/>
<circle cx="290.6" cy="312.6" r="1.1" fill="#d0a8ea" opacity="0.7"/>
<circle cx="294.0" cy="308.9" r="1.0" fill="#dcc0f0" opacity="0.7"/>
<circle cx="291.7" cy="309.5" r="1.3" fill="#9460cc" opacity="0.7"/>
<circle cx="292.4" cy="314.9" r="1.4" fill="#dcc0f0" opacity="0.7"/>
<circle cx="292.6" cy="311.0" r="1.1" fill="#dcc0f0" opacity="0.7"/>
<circle cx="291.7" cy="314.6" r="1.2" fill="#dcc0f0" opacity="0.7"/>
<circle cx="293.9" cy="310.5" r="0.8" fill="#d0a8ea" opacity="0.7"/>
<circle cx="293.4" cy="312.9" r="1.4" fill="#dcc0f0" opacity="0.7"/>
<circle cx="293.4" cy="312.8" r="1.3" fill="#9460cc" opacity="0.7"/>
<circle cx="295.7" cy="316.3" r="1.3" fill="#9460cc" opacity="0.7"/>
<circle cx="292.1" cy="307.4" r="1.0" fill="#dcc0f0" opacity="0.7"/>
<circle cx="291.7" cy="311.3" r="1.0" fill="#9460cc" opacity="0.7"/>
<circle cx="294.3" cy="311.5" r="1.2" fill="#9460cc" opacity="0.7"/>
<ellipse cx="277.4" cy="332.7" rx="6.5" ry="7.9" fill="url(#g38)" transform="rotate(-20 277.4 332.7)"/>
<circle cx="275.2" cy="334.7" r="1.4" fill="#9460cc" opacity="0.7"/>
<circle cx="277.4" cy="328.9" r="1.1" fill="#dcc0f0" opacity="0.7"/>
<circle cx="276.1" cy="332.3" r="0.8" fill="#d0a8ea" opacity="0.7"/>
<circle cx="274.3" cy="330.7" r="1.3" fill="#9460cc" opacity="0.7"/>
<circle cx="276.5" cy="334.9" r="0.9" fill="#dcc0f0" opacity="0.7"/>
<circle cx="277.6" cy="333.5" r="1.2" fill="#d0a8ea" opacity="0.7"/>
<circle cx="276.2" cy="331.9" r="1.3" fill="#dcc0f0" opacity="0.7"/>
<circle cx="277.5" cy="337.1" r="1.1" fill="#dcc0f0" opacity="0.7"/>
<circle cx="276.1" cy="334.3" r="0.8" fill="#d0a8ea" opacity="0.7"/>
<circle cx="276.3" cy="331.8" r="1.1" fill="#dcc0f0" opacity="0.7"/>
<circle cx="278.1" cy="333.2" r="1.3" fill="#9460cc" opacity="0.7"/>
<circle cx="275.2" cy="332.9" r="1.0" fill="#d0a8ea" opacity="0.7"/>
<ellipse cx="294" cy="341.5" rx="7" ry="6.2" fill="url(#g39)"/>
<circle cx="290.4" cy="343.1" r="1.3" fill="#9460cc" opacity="0.7"/>
<circle cx="295.0" cy="341.3" r="0.8" fill="#dcc0f0" opacity="0.7"/>
<circle cx="295.6" cy="341.5" r="0.8" fill="#dcc0f0" opacity="0.7"/>
<circle cx="290.6" cy="340.4" r="1.1" fill="#dcc0f0" opacity="0.7"/>
<circle cx="295.8" cy="339.7" r="1.4" fill="#9460cc" opacity="0.7"/>
<circle cx="295.0" cy="341.3" r="1.1" fill="#9460cc" opacity="0.7"/>
<circle cx="297.3" cy="343.3" r="1.1" fill="#dcc0f0" opacity="0.7"/>
<circle cx="293.4" cy="341.7" r="1.4" fill="#9460cc" opacity="0.7"/>
<circle cx="294.0" cy="341.6" r="1.0" fill="#d0a8ea" opacity="0.7"/>
<circle cx="296.2" cy="342.2" r="0.8" fill="#dcc0f0" opacity="0.7"/>
<ellipse cx="285.6" cy="345" rx="4.4" ry="4.2" fill="url(#g40)"/>
<circle cx="285.5" cy="346.3" r="1.2" fill="#d0a8ea" opacity="0.7"/>
<circle cx="286.0" cy="345.1" r="1.3" fill="#dcc0f0" opacity="0.7"/>
<circle cx="285.3" cy="344.3" r="1.2" fill="#9460cc" opacity="0.7"/>
<circle cx="286.3" cy="345.5" r="1.0" fill="#dcc0f0" opacity="0.7"/>
<circle cx="284.9" cy="345.7" r="1.1" fill="#dcc0f0" opacity="0.7"/>
<ellipse cx="316.2" cy="345.4" rx="7.1" ry="7.7" fill="url(#g41)"/>
<circle cx="319.5" cy="343.3" r="1.1" fill="#dcc0f0" opacity="0.7"/>
<circle cx="316.4" cy="344.7" r="1.3" fill="#dcc0f0" opacity="0.7"/>
<circle cx="319.6" cy="343.8" r="1.3" fill="#dcc0f0" opacity="0.7"/>
<circle cx="316.9" cy="341.0" r="1.4" fill="#d0a8ea" opacity="0.7"/>
<circle cx="317.7" cy="343.0" r="1.1" fill="#d0a8ea" opacity="0.7"/>
<circle cx="315.8" cy="346.4" r="0.9" fill="#d0a8ea" opacity="0.7"/>
<circle cx="316.8" cy="346.2" r="0.8" fill="#9460cc" opacity="0.7"/>
<circle cx="312.6" cy="346.6" r="1.1" fill="#dcc0f0" opacity="0.7"/>
<circle cx="316.0" cy="347.3" r="0.9" fill="#d0a8ea" opacity="0.7"/>
<circle cx="315.1" cy="344.8" r="1.3" fill="#d0a8ea" opacity="0.7"/>
<circle cx="314.8" cy="345.5" r="1.3" fill="#dcc0f0" opacity="0.7"/>
<circle cx="317.4" cy="347.3" r="1.2" fill="#9460cc" opacity="0.7"/>
<ellipse cx="329.2" cy="340.8" rx="9" ry="7.5" fill="url(#g42)" transform="rotate(25 329.2 340.8)"/>
<circle cx="331.9" cy="339.7" r="1.3" fill="#dcc0f0" opacity="0.7"/>
<circle cx="329.1" cy="341.7" r="1.0" fill="#d0a8ea" opacity="0.7"/>
<circle cx="334.2" cy="340.7" r="0.9" fill="#d0a8ea" opacity="0.7"/>
<circle cx="328.4" cy="341.2" r="1.3" fill="#d0a8ea" opacity="0.7"/>
<circle cx="331.3" cy="343.1" r="1.1" fill="#9460cc" opacity="0.7"/>
<circle cx="328.8" cy="341.3" r="0.8" fill="#9460cc" opacity="0.7"/>
<circle cx="328.8" cy="342.4" r="0.8" fill="#d0a8ea" opacity="0.7"/>
<circle cx="329.8" cy="343.3" r="0.9" fill="#dcc0f0" opacity="0.7"/>
<circle cx="328.0" cy="340.7" r="0.9" fill="#9460cc" opacity="0.7"/>
<circle cx="329.6" cy="341.0" r="1.2" fill="#d0a8ea" opacity="0.7"/>
<circle cx="329.3" cy="340.0" r="0.9" fill="#9460cc" opacity="0.7"/>
<circle cx="328.1" cy="337.3" r="1.1" fill="#dcc0f0" opacity="0.7"/>
<circle cx="332.9" cy="341.0" r="1.1" fill="#9460cc" opacity="0.7"/>
<circle cx="331.6" cy="339.6" r="1.0" fill="#d0a8ea" opacity="0.7"/>
<circle cx="331.7" cy="337.5" r="1.1" fill="#dcc0f0" opacity="0.7"/>
<ellipse cx="359.2" cy="333" rx="6" ry="5.2" fill="url(#g43)"/>
<circle cx="356.9" cy="334.3" r="0.9" fill="#9460cc" opacity="0.7"/>
<circle cx="359.1" cy="333.6" r="1.3" fill="#d0a8ea" opacity="0.7"/>
<circle cx="361.7" cy="333.5" r="1.1" fill="#dcc0f0" opacity="0.7"/>
<circle cx="357.1" cy="335.3" r="1.4" fill="#dcc0f0" opacity="0.7"/>
<circle cx="361.1" cy="334.5" r="1.3" fill="#d0a8ea" opacity="0.7"/>
<circle cx="359.8" cy="330.3" r="1.1" fill="#dcc0f0" opacity="0.7"/>
<circle cx="359.1" cy="333.3" r="1.2" fill="#d0a8ea" opacity="0.7"/>
<circle cx="357.3" cy="332.9" r="1.1" fill="#dcc0f0" opacity="0.7"/>
<ellipse cx="365.4" cy="350" rx="7.1" ry="8.5" fill="url(#g44)" transform="rotate(15 365.4 350)"/>
<circle cx="365.4" cy="350.5" r="1.2" fill="#dcc0f0" opacity="0.7"/>
<circle cx="366.3" cy="350.8" r="1.3" fill="#dcc0f0" opacity="0.7"/>
<circle cx="369.3" cy="350.6" r="1.2" fill="#d0a8ea" opacity="0.7"/>
<circle cx="367.9" cy="350.3" r="1.1" fill="#9460cc" opacity="0.7"/>
<circle cx="365.5" cy="352.3" r="1.0" fill="#dcc0f0" opacity="0.7"/>
<circle cx="365.4" cy="349.8" r="0.9" fill="#d0a8ea" opacity="0.7"/>
<circle cx="362.6" cy="348.0" r="0.9" fill="#dcc0f0" opacity="0.7"/>
<circle cx="364.9" cy="350.4" r="1.2" fill="#dcc0f0" opacity="0.7"/>
<circle cx="366.9" cy="352.3" r="1.2" fill="#dcc0f0" opacity="0.7"/>
<circle cx="365.5" cy="350.0" r="1.2" fill="#9460cc" opacity="0.7"/>
<circle cx="362.3" cy="352.1" r="1.1" fill="#d0a8ea" opacity="0.7"/>
<circle cx="365.6" cy="350.0" r="1.0" fill="#d0a8ea" opacity="0.7"/>
<circle cx="365.5" cy="351.7" r="1.1" fill="#9460cc" opacity="0.7"/>
<circle cx="366.7" cy="345.6" r="1.3" fill="#9460cc" opacity="0.7"/>
<ellipse cx="345.0" cy="365.9" rx="5.7" ry="5.5" fill="url(#g45)"/>
<ellipse cx="339.6" cy="364.9" rx="5.5" ry="5.6" fill="url(#g45)"/>
<ellipse cx="342.3" cy="365.4" rx="5.7" ry="4.0" fill="#b680e4" transform="rotate(10 342.3 365.4)"/>
<circle cx="344.6" cy="366.0" r="1.4" fill="#d0a8ea" opacity="0.7"/>
<circle cx="342.3" cy="366.8" r="1.2" fill="#d0a8ea" opacity="0.7"/>
<circle cx="343.0" cy="365.8" r="1.0" fill="#dcc0f0" opacity="0.7"/>
<circle cx="342.2" cy="365.4" r="0.9" fill="#d0a8ea" opacity="0.7"/>
<circle cx="343.0" cy="362.3" r="1.2" fill="#dcc0f0" opacity="0.7"/>
<circle cx="345.3" cy="365.9" r="1.0" fill="#9460cc" opacity="0.7"/>
<circle cx="340.2" cy="363.9" r="1.3" fill="#dcc0f0" opacity="0.7"/>
<circle cx="341.4" cy="364.8" r="1.1" fill="#d0a8ea" opacity="0.7"/>
<circle cx="342.3" cy="365.5" r="0.9" fill="#d0a8ea" opacity="0.7"/>
<circle cx="342.0" cy="365.1" r="1.2" fill="#9460cc" opacity="0.7"/>
<ellipse cx="353.8" cy="373.8" rx="6.5" ry="7.3" fill="url(#g46)"/>
<circle cx="354.1" cy="373.6" r="1.2" fill="#dcc0f0" opacity="0.7"/>
<circle cx="351.9" cy="374.6" r="1.3" fill="#d0a8ea" opacity="0.7"/>
<circle cx="352.9" cy="373.2" r="1.2" fill="#9460cc" opacity="0.7"/>
<circle cx="350.7" cy="372.7" r="1.2" fill="#9460cc" opacity="0.7"/>
<circle cx="354.1" cy="375.5" r="1.1" fill="#d0a8ea" opacity="0.7"/>
<circle cx="351.7" cy="374.4" r="1.2" fill="#d0a8ea" opacity="0.7"/>
<circle cx="353.9" cy="373.7" r="1.0" fill="#dcc0f0" opacity="0.7"/>
<circle cx="352.3" cy="373.7" r="1.2" fill="#dcc0f0" opacity="0.7"/>
<circle cx="354.4" cy="373.5" r="1.4" fill="#d0a8ea" opacity="0.7"/>
<circle cx="352.0" cy="373.0" r="1.0" fill="#dcc0f0" opacity="0.7"/>
<circle cx="353.0" cy="377.0" r="0.9" fill="#dcc0f0" opacity="0.7"/>
<ellipse cx="377.7" cy="333" rx="4.5" ry="5" fill="url(#g47)"/>
<circle cx="377.0" cy="332.4" r="1.2" fill="#9460cc" opacity="0.7"/>
<circle cx="376.8" cy="333.9" r="1.2" fill="#dcc0f0" opacity="0.7"/>
<circle cx="375.1" cy="332.6" r="1.2" fill="#dcc0f0" opacity="0.7"/>
<circle cx="376.1" cy="334.0" r="0.9" fill="#dcc0f0" opacity="0.7"/>
<circle cx="376.0" cy="331.3" r="1.3" fill="#9460cc" opacity="0.7"/>
<circle cx="379.6" cy="334.4" r="1.4" fill="#d0a8ea" opacity="0.7"/>
<ellipse cx="378.6" cy="377.1" rx="6.1" ry="5.9" fill="url(#g48)"/>
<ellipse cx="373.8" cy="377.9" rx="5.9" ry="6.0" fill="url(#g48)"/>
<ellipse cx="376.2" cy="377.5" rx="5.8" ry="4.3" fill="#b680e4" transform="rotate(-10 376.2 377.5)"/>
<circle cx="375.8" cy="379.8" r="1.2" fill="#9460cc" opacity="0.7"/>
<circle cx="379.1" cy="379.7" r="0.8" fill="#9460cc" opacity="0.7"/>
<circle cx="374.1" cy="376.6" r="1.4" fill="#9460cc" opacity="0.7"/>
<circle cx="378.6" cy="380.0" r="1.0" fill="#9460cc" opacity="0.7"/>
<circle cx="374.8" cy="376.6" r="1.1" fill="#d0a8ea" opacity="0.7"/>
<circle cx="375.8" cy="378.7" r="1.0" fill="#9460cc" opacity="0.7"/>
<circle cx="374.5" cy="377.0" r="1.0" fill="#9460cc" opacity="0.7"/>
<circle cx="377.6" cy="376.0" r="1.1" fill="#dcc0f0" opacity="0.7"/>
<circle cx="372.4" cy="376.8" r="1.1" fill="#d0a8ea" opacity="0.7"/>
<circle cx="375.8" cy="377.3" r="1.4" fill="#d0a8ea" opacity="0.7"/>
<circle cx="379.1" cy="377.1" r="0.9" fill="#d0a8ea" opacity="0.7"/>
<ellipse cx="379.5" cy="332" rx="5.6" ry="5.4" fill="url(#g49)"/>
<circle cx="379.9" cy="333.3" r="1.3" fill="#dcc0f0" opacity="0.7"/>
<circle cx="380.4" cy="332.1" r="1.3" fill="#d0a8ea" opacity="0.7"/>
<circle cx="381.8" cy="330.8" r="1.1" fill="#d0a8ea" opacity="0.7"/>
<circle cx="377.8" cy="331.8" r="1.2" fill="#d0a8ea" opacity="0.7"/>
<circle cx="379.4" cy="332.0" r="1.2" fill="#d0a8ea" opacity="0.7"/>
<circle cx="381.7" cy="331.3" r="1.1" fill="#dcc0f0" opacity="0.7"/>
<circle cx="378.1" cy="332.9" r="1.2" fill="#9460cc" opacity="0.7"/>
<circle cx="379.9" cy="332.5" r="1.1" fill="#d0a8ea" opacity="0.7"/>
<ellipse cx="385.5" cy="328.5" rx="4.3" ry="3.9" fill="url(#g50)"/>
<circle cx="384.0" cy="329.0" r="1.4" fill="#d0a8ea" opacity="0.7"/>
<circle cx="384.8" cy="326.9" r="0.9" fill="#d0a8ea" opacity="0.7"/>
<circle cx="384.5" cy="330.6" r="1.3" fill="#9460cc" opacity="0.7"/>
<circle cx="386.3" cy="329.9" r="1.0" fill="#d0a8ea" opacity="0.7"/>
<circle cx="386.6" cy="326.4" r="1.3" fill="#d0a8ea" opacity="0.7"/>
<ellipse cx="391.5" cy="328" rx="6.2" ry="5.2" fill="url(#g51)"/>
<circle cx="390.2" cy="326.8" r="1.3" fill="#dcc0f0" opacity="0.7"/>
<circle cx="390.8" cy="328.0" r="0.9" fill="#9460cc" opacity="0.7"/>
<circle cx="391.1" cy="327.9" r="1.1" fill="#9460cc" opacity="0.7"/>
<circle cx="391.4" cy="327.9" r="1.0" fill="#dcc0f0" opacity="0.7"/>
<circle cx="390.6" cy="330.0" r="0.8" fill="#d0a8ea" opacity="0.7"/>
<circle cx="391.2" cy="328.2" r="0.8" fill="#dcc0f0" opacity="0.7"/>
<circle cx="392.1" cy="329.5" r="1.1" fill="#d0a8ea" opacity="0.7"/>
<circle cx="393.8" cy="326.0" r="1.1" fill="#dcc0f0" opacity="0.7"/>
<ellipse cx="397" cy="335" rx="3.8" ry="4.8" fill="url(#g52)"/>
<circle cx="396.2" cy="334.5" r="0.9" fill="#dcc0f0" opacity="0.7"/>
<circle cx="395.8" cy="334.8" r="0.8" fill="#dcc0f0" opacity="0.7"/>
<circle cx="397.6" cy="336.3" r="1.3" fill="#9460cc" opacity="0.7"/>
<circle cx="395.3" cy="336.0" r="1.2" fill="#9460cc" opacity="0.7"/>
<circle cx="397.1" cy="334.1" r="1.2" fill="#d0a8ea" opacity="0.7"/>
<ellipse cx="395.4" cy="343.5" rx="5.8" ry="6.2" fill="url(#g53)"/>
<circle cx="395.4" cy="343.6" r="1.2" fill="#9460cc" opacity="0.7"/>
<circle cx="396.0" cy="343.8" r="1.2" fill="#dcc0f0" opacity="0.7"/>
<circle cx="398.3" cy="344.6" r="1.1" fill="#dcc0f0" opacity="0.7"/>
<circle cx="393.4" cy="344.4" r="0.9" fill="#dcc0f0" opacity="0.7"/>
<circle cx="396.5" cy="345.3" r="0.9" fill="#dcc0f0" opacity="0.7"/>
<circle cx="397.7" cy="341.7" r="1.0" fill="#9460cc" opacity="0.7"/>
<circle cx="395.4" cy="346.8" r="1.4" fill="#dcc0f0" opacity="0.7"/>
<circle cx="395.5" cy="344.9" r="1.2" fill="#dcc0f0" opacity="0.7"/>
<circle cx="394.2" cy="344.3" r="1.2" fill="#dcc0f0" opacity="0.7"/>
<ellipse cx="389.2" cy="362" rx="7.3" ry="5.8" fill="url(#g54)" transform="rotate(10 389.2 362)"/>
<circle cx="389.5" cy="361.2" r="0.9" fill="#d0a8ea" opacity="0.7"/>
<circle cx="389.2" cy="362.0" r="1.3" fill="#d0a8ea" opacity="0.7"/>
<circle cx="388.7" cy="361.8" r="1.1" fill="#d0a8ea" opacity="0.7"/>
<circle cx="387.7" cy="363.9" r="1.4" fill="#d0a8ea" opacity="0.7"/>
<circle cx="389.9" cy="360.9" r="0.9" fill="#dcc0f0" opacity="0.7"/>
<circle cx="387.7" cy="362.2" r="1.1" fill="#d0a8ea" opacity="0.7"/>
<circle cx="388.4" cy="361.0" r="0.9" fill="#9460cc" opacity="0.7"/>
<circle cx="389.8" cy="362.5" r="1.1" fill="#dcc0f0" opacity="0.7"/>
<circle cx="387.3" cy="361.4" r="1.3" fill="#dcc0f0" opacity="0.7"/>
<circle cx="390.0" cy="363.0" r="1.2" fill="#d0a8ea" opacity="0.7"/>
<ellipse cx="387" cy="370.4" rx="3.9" ry="3.9" fill="url(#g55)"/>
<circle cx="386.1" cy="369.4" r="1.0" fill="#d0a8ea" opacity="0.7"/>
<circle cx="386.5" cy="370.4" r="1.1" fill="#dcc0f0" opacity="0.7"/>
<circle cx="389.2" cy="369.6" r="1.2" fill="#d0a8ea" opacity="0.7"/>
<circle cx="386.3" cy="369.9" r="0.9" fill="#9460cc" opacity="0.7"/>
<circle cx="386.7" cy="370.4" r="1.3" fill="#9460cc" opacity="0.7"/>
<ellipse cx="367.5" cy="339.5" rx="1.6" ry="4" fill="#c8acdc" transform="rotate(20 367.5 339.5)"/>
</g><g filter="url(#b3)">
<ellipse cx="315.6" cy="307.3" rx="7.6" ry="7.5" fill="url(#g56)"/>
<ellipse cx="322.8" cy="304.6" rx="1.9" ry="2.3" fill="#e6e0f2"/>
<ellipse cx="433.8" cy="344.2" rx="9.5" ry="9.1" fill="url(#g57)"/>
<ellipse cx="429.3" cy="340.4" rx="3.8" ry="2.8" fill="#b490e2" transform="rotate(-30 429.3 340.4)" opacity="0.85"/>
<ellipse cx="436.5" cy="346.5" rx="5" ry="4.4" fill="#6a2eba" opacity="0.75"/>
</g></g>
<g filter="url(#tb)" font-family="Liberation Sans, Arial, Helvetica, sans-serif" font-weight="bold" fill="#111" font-size="7.9"><text x="119" y="412.7" textLength="36.6" lengthAdjust="spacing">anti-Fas</text>
<text y="414.6"><tspan x="294.2" textLength="48.4" lengthAdjust="spacing">lavendustin</tspan> <tspan x="347.9">A</tspan> <tspan x="359.3" font-size="6.5">+</tspan> <tspan x="367.9" textLength="33" lengthAdjust="spacing">anti-Fas</tspan></text></g>
</svg>
</body></html>
